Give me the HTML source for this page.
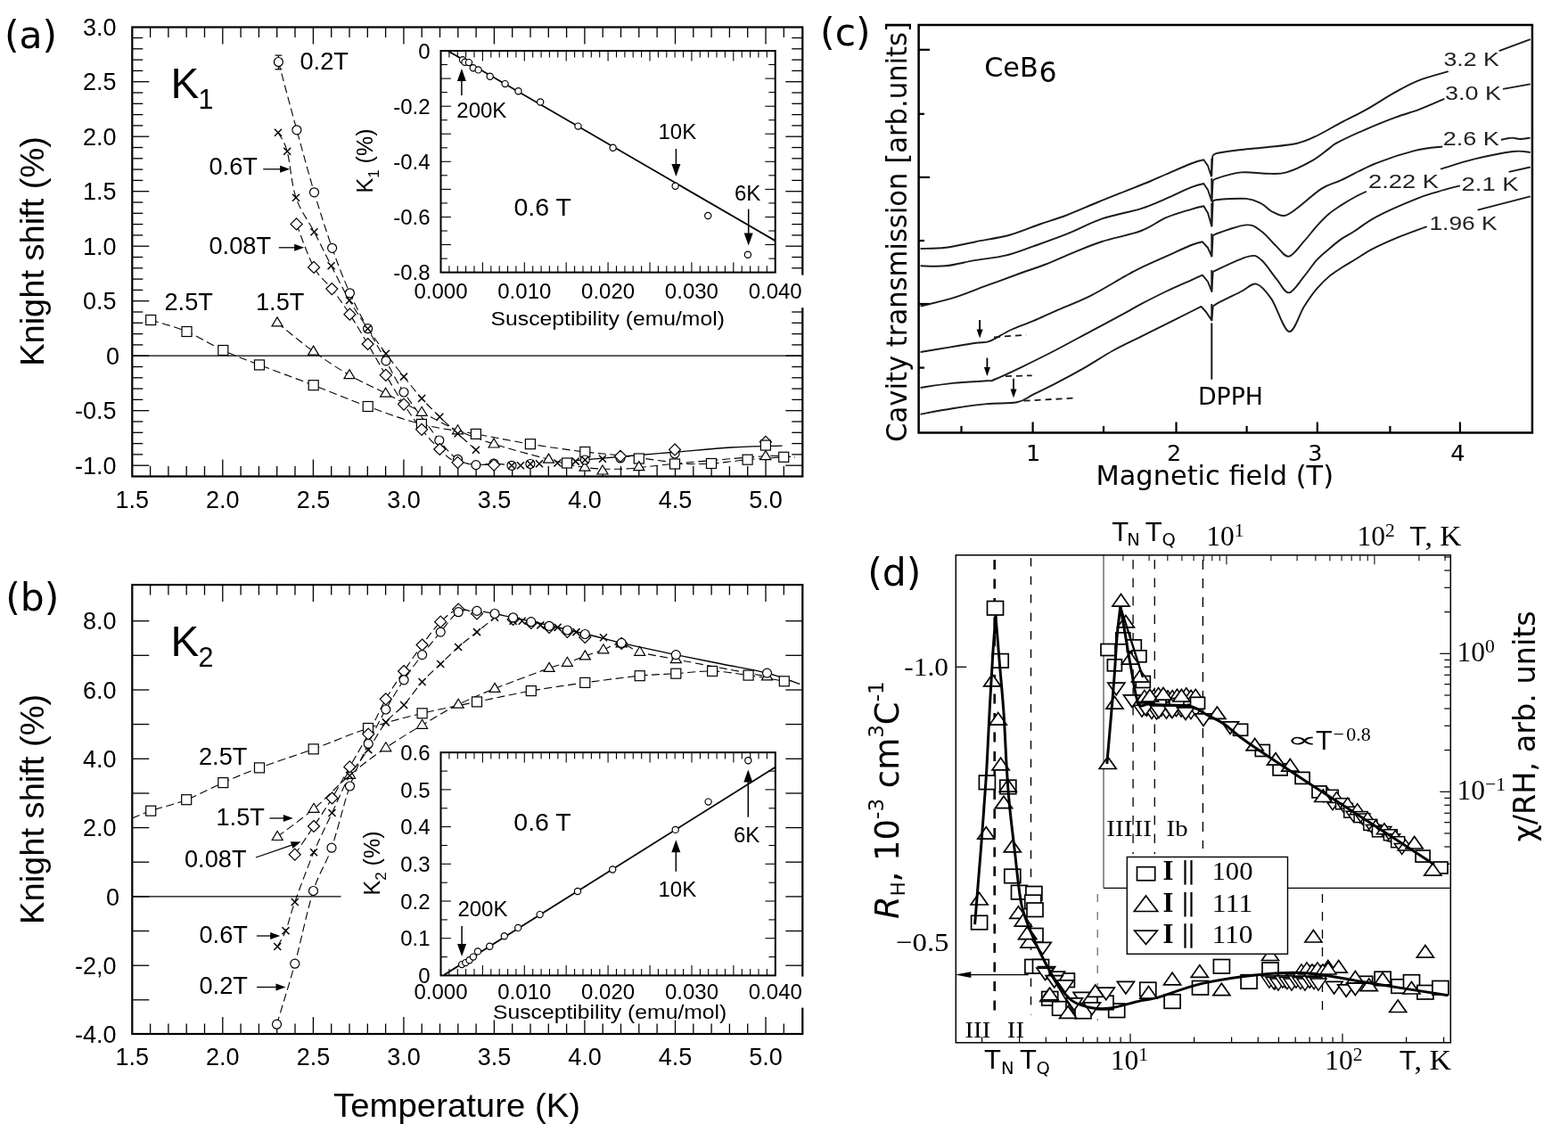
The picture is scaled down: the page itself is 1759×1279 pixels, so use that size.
<!DOCTYPE html>
<html><head><meta charset="utf-8"><style>
html,body{margin:0;padding:0;background:#fff;}
svg{display:block;}
</style></head><body>
<svg width="1759" height="1279" viewBox="0 0 1759 1279">
<rect x="0" y="0" width="1759" height="1279" fill="#fff"/>
<line x1="168.6" y1="534.5" x2="168.6" y2="523" stroke="#000" stroke-width="1.3"/>
<line x1="168.6" y1="30.5" x2="168.6" y2="42" stroke="#000" stroke-width="1.3"/>
<line x1="188.9" y1="534.5" x2="188.9" y2="523" stroke="#000" stroke-width="1.3"/>
<line x1="188.9" y1="30.5" x2="188.9" y2="42" stroke="#000" stroke-width="1.3"/>
<line x1="209.2" y1="534.5" x2="209.2" y2="523" stroke="#000" stroke-width="1.3"/>
<line x1="209.2" y1="30.5" x2="209.2" y2="42" stroke="#000" stroke-width="1.3"/>
<line x1="229.5" y1="534.5" x2="229.5" y2="523" stroke="#000" stroke-width="1.3"/>
<line x1="229.5" y1="30.5" x2="229.5" y2="42" stroke="#000" stroke-width="1.3"/>
<line x1="249.8" y1="534.5" x2="249.8" y2="515.5" stroke="#000" stroke-width="1.3"/>
<line x1="249.8" y1="30.5" x2="249.8" y2="49.5" stroke="#000" stroke-width="1.3"/>
<line x1="270.1" y1="534.5" x2="270.1" y2="523" stroke="#000" stroke-width="1.3"/>
<line x1="270.1" y1="30.5" x2="270.1" y2="42" stroke="#000" stroke-width="1.3"/>
<line x1="290.4" y1="534.5" x2="290.4" y2="523" stroke="#000" stroke-width="1.3"/>
<line x1="290.4" y1="30.5" x2="290.4" y2="42" stroke="#000" stroke-width="1.3"/>
<line x1="310.7" y1="534.5" x2="310.7" y2="523" stroke="#000" stroke-width="1.3"/>
<line x1="310.7" y1="30.5" x2="310.7" y2="42" stroke="#000" stroke-width="1.3"/>
<line x1="331" y1="534.5" x2="331" y2="523" stroke="#000" stroke-width="1.3"/>
<line x1="331" y1="30.5" x2="331" y2="42" stroke="#000" stroke-width="1.3"/>
<line x1="351.4" y1="534.5" x2="351.4" y2="515.5" stroke="#000" stroke-width="1.3"/>
<line x1="351.4" y1="30.5" x2="351.4" y2="49.5" stroke="#000" stroke-width="1.3"/>
<line x1="371.7" y1="534.5" x2="371.7" y2="523" stroke="#000" stroke-width="1.3"/>
<line x1="371.7" y1="30.5" x2="371.7" y2="42" stroke="#000" stroke-width="1.3"/>
<line x1="392" y1="534.5" x2="392" y2="523" stroke="#000" stroke-width="1.3"/>
<line x1="392" y1="30.5" x2="392" y2="42" stroke="#000" stroke-width="1.3"/>
<line x1="412.3" y1="534.5" x2="412.3" y2="523" stroke="#000" stroke-width="1.3"/>
<line x1="412.3" y1="30.5" x2="412.3" y2="42" stroke="#000" stroke-width="1.3"/>
<line x1="432.6" y1="534.5" x2="432.6" y2="523" stroke="#000" stroke-width="1.3"/>
<line x1="432.6" y1="30.5" x2="432.6" y2="42" stroke="#000" stroke-width="1.3"/>
<line x1="452.9" y1="534.5" x2="452.9" y2="515.5" stroke="#000" stroke-width="1.3"/>
<line x1="452.9" y1="30.5" x2="452.9" y2="49.5" stroke="#000" stroke-width="1.3"/>
<line x1="473.2" y1="534.5" x2="473.2" y2="523" stroke="#000" stroke-width="1.3"/>
<line x1="473.2" y1="30.5" x2="473.2" y2="42" stroke="#000" stroke-width="1.3"/>
<line x1="493.5" y1="534.5" x2="493.5" y2="523" stroke="#000" stroke-width="1.3"/>
<line x1="493.5" y1="30.5" x2="493.5" y2="42" stroke="#000" stroke-width="1.3"/>
<line x1="513.8" y1="534.5" x2="513.8" y2="523" stroke="#000" stroke-width="1.3"/>
<line x1="513.8" y1="30.5" x2="513.8" y2="42" stroke="#000" stroke-width="1.3"/>
<line x1="534.1" y1="534.5" x2="534.1" y2="523" stroke="#000" stroke-width="1.3"/>
<line x1="534.1" y1="30.5" x2="534.1" y2="42" stroke="#000" stroke-width="1.3"/>
<line x1="554.4" y1="534.5" x2="554.4" y2="515.5" stroke="#000" stroke-width="1.3"/>
<line x1="554.4" y1="30.5" x2="554.4" y2="49.5" stroke="#000" stroke-width="1.3"/>
<line x1="574.7" y1="534.5" x2="574.7" y2="523" stroke="#000" stroke-width="1.3"/>
<line x1="574.7" y1="30.5" x2="574.7" y2="42" stroke="#000" stroke-width="1.3"/>
<line x1="595" y1="534.5" x2="595" y2="523" stroke="#000" stroke-width="1.3"/>
<line x1="595" y1="30.5" x2="595" y2="42" stroke="#000" stroke-width="1.3"/>
<line x1="615.3" y1="534.5" x2="615.3" y2="523" stroke="#000" stroke-width="1.3"/>
<line x1="615.3" y1="30.5" x2="615.3" y2="42" stroke="#000" stroke-width="1.3"/>
<line x1="635.6" y1="534.5" x2="635.6" y2="523" stroke="#000" stroke-width="1.3"/>
<line x1="635.6" y1="30.5" x2="635.6" y2="42" stroke="#000" stroke-width="1.3"/>
<line x1="655.9" y1="534.5" x2="655.9" y2="515.5" stroke="#000" stroke-width="1.3"/>
<line x1="655.9" y1="30.5" x2="655.9" y2="49.5" stroke="#000" stroke-width="1.3"/>
<line x1="676.2" y1="534.5" x2="676.2" y2="523" stroke="#000" stroke-width="1.3"/>
<line x1="676.2" y1="30.5" x2="676.2" y2="42" stroke="#000" stroke-width="1.3"/>
<line x1="696.5" y1="534.5" x2="696.5" y2="523" stroke="#000" stroke-width="1.3"/>
<line x1="696.5" y1="30.5" x2="696.5" y2="42" stroke="#000" stroke-width="1.3"/>
<line x1="716.8" y1="534.5" x2="716.8" y2="523" stroke="#000" stroke-width="1.3"/>
<line x1="716.8" y1="30.5" x2="716.8" y2="42" stroke="#000" stroke-width="1.3"/>
<line x1="737.1" y1="534.5" x2="737.1" y2="523" stroke="#000" stroke-width="1.3"/>
<line x1="737.1" y1="30.5" x2="737.1" y2="42" stroke="#000" stroke-width="1.3"/>
<line x1="757.5" y1="534.5" x2="757.5" y2="515.5" stroke="#000" stroke-width="1.3"/>
<line x1="757.5" y1="30.5" x2="757.5" y2="49.5" stroke="#000" stroke-width="1.3"/>
<line x1="777.8" y1="534.5" x2="777.8" y2="523" stroke="#000" stroke-width="1.3"/>
<line x1="777.8" y1="30.5" x2="777.8" y2="42" stroke="#000" stroke-width="1.3"/>
<line x1="798.1" y1="534.5" x2="798.1" y2="523" stroke="#000" stroke-width="1.3"/>
<line x1="798.1" y1="30.5" x2="798.1" y2="42" stroke="#000" stroke-width="1.3"/>
<line x1="818.4" y1="534.5" x2="818.4" y2="523" stroke="#000" stroke-width="1.3"/>
<line x1="818.4" y1="30.5" x2="818.4" y2="42" stroke="#000" stroke-width="1.3"/>
<line x1="838.7" y1="534.5" x2="838.7" y2="523" stroke="#000" stroke-width="1.3"/>
<line x1="838.7" y1="30.5" x2="838.7" y2="42" stroke="#000" stroke-width="1.3"/>
<line x1="859" y1="534.5" x2="859" y2="515.5" stroke="#000" stroke-width="1.3"/>
<line x1="859" y1="30.5" x2="859" y2="49.5" stroke="#000" stroke-width="1.3"/>
<line x1="879.3" y1="534.5" x2="879.3" y2="523" stroke="#000" stroke-width="1.3"/>
<line x1="879.3" y1="30.5" x2="879.3" y2="42" stroke="#000" stroke-width="1.3"/>
<line x1="148.3" y1="522.2" x2="167.3" y2="522.2" stroke="#000" stroke-width="1.3"/>
<line x1="900.3" y1="522.2" x2="881.3" y2="522.2" stroke="#000" stroke-width="1.3"/>
<line x1="148.3" y1="509.9" x2="160.3" y2="509.9" stroke="#000" stroke-width="1.3"/>
<line x1="900.3" y1="509.9" x2="888.3" y2="509.9" stroke="#000" stroke-width="1.3"/>
<line x1="148.3" y1="497.6" x2="160.3" y2="497.6" stroke="#000" stroke-width="1.3"/>
<line x1="900.3" y1="497.6" x2="888.3" y2="497.6" stroke="#000" stroke-width="1.3"/>
<line x1="148.3" y1="485.3" x2="160.3" y2="485.3" stroke="#000" stroke-width="1.3"/>
<line x1="900.3" y1="485.3" x2="888.3" y2="485.3" stroke="#000" stroke-width="1.3"/>
<line x1="148.3" y1="473" x2="160.3" y2="473" stroke="#000" stroke-width="1.3"/>
<line x1="900.3" y1="473" x2="888.3" y2="473" stroke="#000" stroke-width="1.3"/>
<line x1="148.3" y1="460.7" x2="167.3" y2="460.7" stroke="#000" stroke-width="1.3"/>
<line x1="900.3" y1="460.7" x2="881.3" y2="460.7" stroke="#000" stroke-width="1.3"/>
<line x1="148.3" y1="448.4" x2="160.3" y2="448.4" stroke="#000" stroke-width="1.3"/>
<line x1="900.3" y1="448.4" x2="888.3" y2="448.4" stroke="#000" stroke-width="1.3"/>
<line x1="148.3" y1="436.1" x2="160.3" y2="436.1" stroke="#000" stroke-width="1.3"/>
<line x1="900.3" y1="436.1" x2="888.3" y2="436.1" stroke="#000" stroke-width="1.3"/>
<line x1="148.3" y1="423.8" x2="160.3" y2="423.8" stroke="#000" stroke-width="1.3"/>
<line x1="900.3" y1="423.8" x2="888.3" y2="423.8" stroke="#000" stroke-width="1.3"/>
<line x1="148.3" y1="411.5" x2="160.3" y2="411.5" stroke="#000" stroke-width="1.3"/>
<line x1="900.3" y1="411.5" x2="888.3" y2="411.5" stroke="#000" stroke-width="1.3"/>
<line x1="148.3" y1="399.2" x2="167.3" y2="399.2" stroke="#000" stroke-width="1.3"/>
<line x1="900.3" y1="399.2" x2="881.3" y2="399.2" stroke="#000" stroke-width="1.3"/>
<line x1="148.3" y1="386.9" x2="160.3" y2="386.9" stroke="#000" stroke-width="1.3"/>
<line x1="900.3" y1="386.9" x2="888.3" y2="386.9" stroke="#000" stroke-width="1.3"/>
<line x1="148.3" y1="374.6" x2="160.3" y2="374.6" stroke="#000" stroke-width="1.3"/>
<line x1="900.3" y1="374.6" x2="888.3" y2="374.6" stroke="#000" stroke-width="1.3"/>
<line x1="148.3" y1="362.3" x2="160.3" y2="362.3" stroke="#000" stroke-width="1.3"/>
<line x1="900.3" y1="362.3" x2="888.3" y2="362.3" stroke="#000" stroke-width="1.3"/>
<line x1="148.3" y1="350" x2="160.3" y2="350" stroke="#000" stroke-width="1.3"/>
<line x1="900.3" y1="350" x2="888.3" y2="350" stroke="#000" stroke-width="1.3"/>
<line x1="148.3" y1="337.7" x2="167.3" y2="337.7" stroke="#000" stroke-width="1.3"/>
<line x1="900.3" y1="337.7" x2="881.3" y2="337.7" stroke="#000" stroke-width="1.3"/>
<line x1="148.3" y1="325.4" x2="160.3" y2="325.4" stroke="#000" stroke-width="1.3"/>
<line x1="900.3" y1="325.4" x2="888.3" y2="325.4" stroke="#000" stroke-width="1.3"/>
<line x1="148.3" y1="313.1" x2="160.3" y2="313.1" stroke="#000" stroke-width="1.3"/>
<line x1="900.3" y1="313.1" x2="888.3" y2="313.1" stroke="#000" stroke-width="1.3"/>
<line x1="148.3" y1="300.8" x2="160.3" y2="300.8" stroke="#000" stroke-width="1.3"/>
<line x1="900.3" y1="300.8" x2="888.3" y2="300.8" stroke="#000" stroke-width="1.3"/>
<line x1="148.3" y1="288.5" x2="160.3" y2="288.5" stroke="#000" stroke-width="1.3"/>
<line x1="900.3" y1="288.5" x2="888.3" y2="288.5" stroke="#000" stroke-width="1.3"/>
<line x1="148.3" y1="276.2" x2="167.3" y2="276.2" stroke="#000" stroke-width="1.3"/>
<line x1="900.3" y1="276.2" x2="881.3" y2="276.2" stroke="#000" stroke-width="1.3"/>
<line x1="148.3" y1="263.9" x2="160.3" y2="263.9" stroke="#000" stroke-width="1.3"/>
<line x1="900.3" y1="263.9" x2="888.3" y2="263.9" stroke="#000" stroke-width="1.3"/>
<line x1="148.3" y1="251.6" x2="160.3" y2="251.6" stroke="#000" stroke-width="1.3"/>
<line x1="900.3" y1="251.6" x2="888.3" y2="251.6" stroke="#000" stroke-width="1.3"/>
<line x1="148.3" y1="239.3" x2="160.3" y2="239.3" stroke="#000" stroke-width="1.3"/>
<line x1="900.3" y1="239.3" x2="888.3" y2="239.3" stroke="#000" stroke-width="1.3"/>
<line x1="148.3" y1="227" x2="160.3" y2="227" stroke="#000" stroke-width="1.3"/>
<line x1="900.3" y1="227" x2="888.3" y2="227" stroke="#000" stroke-width="1.3"/>
<line x1="148.3" y1="214.7" x2="167.3" y2="214.7" stroke="#000" stroke-width="1.3"/>
<line x1="900.3" y1="214.7" x2="881.3" y2="214.7" stroke="#000" stroke-width="1.3"/>
<line x1="148.3" y1="202.4" x2="160.3" y2="202.4" stroke="#000" stroke-width="1.3"/>
<line x1="900.3" y1="202.4" x2="888.3" y2="202.4" stroke="#000" stroke-width="1.3"/>
<line x1="148.3" y1="190.1" x2="160.3" y2="190.1" stroke="#000" stroke-width="1.3"/>
<line x1="900.3" y1="190.1" x2="888.3" y2="190.1" stroke="#000" stroke-width="1.3"/>
<line x1="148.3" y1="177.8" x2="160.3" y2="177.8" stroke="#000" stroke-width="1.3"/>
<line x1="900.3" y1="177.8" x2="888.3" y2="177.8" stroke="#000" stroke-width="1.3"/>
<line x1="148.3" y1="165.5" x2="160.3" y2="165.5" stroke="#000" stroke-width="1.3"/>
<line x1="900.3" y1="165.5" x2="888.3" y2="165.5" stroke="#000" stroke-width="1.3"/>
<line x1="148.3" y1="153.2" x2="167.3" y2="153.2" stroke="#000" stroke-width="1.3"/>
<line x1="900.3" y1="153.2" x2="881.3" y2="153.2" stroke="#000" stroke-width="1.3"/>
<line x1="148.3" y1="140.9" x2="160.3" y2="140.9" stroke="#000" stroke-width="1.3"/>
<line x1="900.3" y1="140.9" x2="888.3" y2="140.9" stroke="#000" stroke-width="1.3"/>
<line x1="148.3" y1="128.6" x2="160.3" y2="128.6" stroke="#000" stroke-width="1.3"/>
<line x1="900.3" y1="128.6" x2="888.3" y2="128.6" stroke="#000" stroke-width="1.3"/>
<line x1="148.3" y1="116.3" x2="160.3" y2="116.3" stroke="#000" stroke-width="1.3"/>
<line x1="900.3" y1="116.3" x2="888.3" y2="116.3" stroke="#000" stroke-width="1.3"/>
<line x1="148.3" y1="104" x2="160.3" y2="104" stroke="#000" stroke-width="1.3"/>
<line x1="900.3" y1="104" x2="888.3" y2="104" stroke="#000" stroke-width="1.3"/>
<line x1="148.3" y1="91.7" x2="167.3" y2="91.7" stroke="#000" stroke-width="1.3"/>
<line x1="900.3" y1="91.7" x2="881.3" y2="91.7" stroke="#000" stroke-width="1.3"/>
<line x1="148.3" y1="79.4" x2="160.3" y2="79.4" stroke="#000" stroke-width="1.3"/>
<line x1="900.3" y1="79.4" x2="888.3" y2="79.4" stroke="#000" stroke-width="1.3"/>
<line x1="148.3" y1="67.1" x2="160.3" y2="67.1" stroke="#000" stroke-width="1.3"/>
<line x1="900.3" y1="67.1" x2="888.3" y2="67.1" stroke="#000" stroke-width="1.3"/>
<line x1="148.3" y1="54.8" x2="160.3" y2="54.8" stroke="#000" stroke-width="1.3"/>
<line x1="900.3" y1="54.8" x2="888.3" y2="54.8" stroke="#000" stroke-width="1.3"/>
<line x1="148.3" y1="42.5" x2="160.3" y2="42.5" stroke="#000" stroke-width="1.3"/>
<line x1="900.3" y1="42.5" x2="888.3" y2="42.5" stroke="#000" stroke-width="1.3"/>
<rect x="148.3" y="30.5" width="752" height="504" fill="none" stroke="#000" stroke-width="2.2"/>
<line x1="148.3" y1="399.2" x2="900.3" y2="399.2" stroke="#000" stroke-width="1.3"/>
<text x="130.5" y="39.8" font-family="'Liberation Sans', Arial, sans-serif" font-size="27" text-anchor="end">3.0</text>
<text x="130.5" y="101.3" font-family="'Liberation Sans', Arial, sans-serif" font-size="27" text-anchor="end">2.5</text>
<text x="130.5" y="162.8" font-family="'Liberation Sans', Arial, sans-serif" font-size="27" text-anchor="end">2.0</text>
<text x="130.5" y="224.3" font-family="'Liberation Sans', Arial, sans-serif" font-size="27" text-anchor="end">1.5</text>
<text x="130.5" y="285.8" font-family="'Liberation Sans', Arial, sans-serif" font-size="27" text-anchor="end">1.0</text>
<text x="130.5" y="347.3" font-family="'Liberation Sans', Arial, sans-serif" font-size="27" text-anchor="end">0.5</text>
<text x="130.5" y="470.3" font-family="'Liberation Sans', Arial, sans-serif" font-size="27" text-anchor="end">-0.5</text>
<text x="130.5" y="531.8" font-family="'Liberation Sans', Arial, sans-serif" font-size="27" text-anchor="end">-1.0</text>
<text x="134" y="408.8" font-family="'Liberation Sans', Arial, sans-serif" font-size="27" text-anchor="end">0</text>
<text x="148.3" y="569.7" font-family="'Liberation Sans', Arial, sans-serif" font-size="27" text-anchor="middle">1.5</text>
<text x="249.8" y="569.7" font-family="'Liberation Sans', Arial, sans-serif" font-size="27" text-anchor="middle">2.0</text>
<text x="351.4" y="569.7" font-family="'Liberation Sans', Arial, sans-serif" font-size="27" text-anchor="middle">2.5</text>
<text x="452.9" y="569.7" font-family="'Liberation Sans', Arial, sans-serif" font-size="27" text-anchor="middle">3.0</text>
<text x="554.4" y="569.7" font-family="'Liberation Sans', Arial, sans-serif" font-size="27" text-anchor="middle">3.5</text>
<text x="655.9" y="569.7" font-family="'Liberation Sans', Arial, sans-serif" font-size="27" text-anchor="middle">4.0</text>
<text x="757.5" y="569.7" font-family="'Liberation Sans', Arial, sans-serif" font-size="27" text-anchor="middle">4.5</text>
<text x="859" y="569.7" font-family="'Liberation Sans', Arial, sans-serif" font-size="27" text-anchor="middle">5.0</text>
<text x="5" y="53.5" font-family="'DejaVu Sans', sans-serif" font-size="42.5">(a)</text>
<text x="49.4" y="410.8" font-family="'Liberation Sans', Arial, sans-serif" font-size="36" textLength="257.7" lengthAdjust="spacingAndGlyphs" transform="rotate(-90 49.4 410.8)">Knight shift (%)</text>
<text x="191.5" y="110.1" font-family="'Liberation Sans', Arial, sans-serif" font-size="47.5">K</text>
<text x="222.5" y="121.8" font-family="'Liberation Sans', Arial, sans-serif" font-size="30.5">1</text>
<text x="336.5" y="77.8" font-family="'Liberation Sans', Arial, sans-serif" font-size="27.2">0.2T</text>
<text x="234.5" y="196.2" font-family="'Liberation Sans', Arial, sans-serif" font-size="27.2">0.6T</text>
<text x="234.5" y="284.6" font-family="'Liberation Sans', Arial, sans-serif" font-size="27.2">0.08T</text>
<text x="184.5" y="347.5" font-family="'Liberation Sans', Arial, sans-serif" font-size="27.2">2.5T</text>
<text x="287" y="347.5" font-family="'Liberation Sans', Arial, sans-serif" font-size="27.2">1.5T</text>
<line x1="295.2" y1="189.8" x2="315.1" y2="189.8" stroke="#000" stroke-width="1.3"/>
<path d="M325.1,189.8 L314.1,193.8 L314.1,185.8 Z" fill="#000"/>
<line x1="312.8" y1="277.8" x2="331.2" y2="277.8" stroke="#000" stroke-width="1.3"/>
<path d="M341.2,277.8 L330.2,281.8 L330.2,273.8 Z" fill="#000"/>
<path d="M312.4,69.5 C315.8,82.2 326.2,121.4 332.9,145.8 C339.6,170.2 345.9,193.7 352.5,215.8 C359.1,237.9 366,259.5 372.6,278.3 C379.2,297.1 385.7,313.7 392.4,328.8 C399.1,343.9 405.8,356 412.6,368.7 C419.4,381.4 426.3,392.9 433,404.8 C439.7,416.7 443,425.1 453,440 C463,454.9 482.7,481.4 492.8,494 C502.9,506.6 506.6,510.7 513.5,515.3 C520.4,519.9 527.1,520.8 533.9,521.6 C540.6,522.4 547.3,519.9 554,520 C560.7,520.1 570.7,521.9 574,522.3" fill="none" stroke="#000" stroke-width="1.1" stroke-dasharray="9,4.5" stroke-linejoin="round"/>
<path d="M312,148.7 C313.7,152.2 318.9,157.6 322.2,169.8 C325.5,182 326.9,206.6 332,221.7 C337.1,236.8 345.9,247.4 352.5,260.2 C359.1,273 365,285.5 371.6,298.3 C378.2,311.1 385.2,325.3 392,337 C398.8,348.7 405.8,358.7 412.6,368.7 C419.4,378.7 426.3,387.8 433,396.8 C439.7,405.8 446.3,414.2 453,422.6 C459.7,431 466.4,439.5 473.1,447 C479.8,454.5 486.6,461.1 493.3,467.7 C500,474.3 506.7,480.3 513.5,486.5 C520.3,492.7 530.5,501.8 533.9,504.8" fill="none" stroke="#000" stroke-width="1.1" stroke-dasharray="9,4.5" stroke-linejoin="round"/>
<path d="M332.6,251.4 C335.9,259.5 345.5,287.8 352.1,299.9 C358.7,312 365.6,315.3 372.3,324.1 C379,332.9 385.7,342.4 392.4,352.7 C399.1,363 405.9,374.6 412.6,386 C419.3,397.4 426.1,409.5 432.8,420.8 C439.5,432.1 446.3,443.4 453,453.6 C459.7,463.8 466.4,473.4 473.1,481.8 C479.8,490.2 486.6,497.8 493.3,504 C500,510.2 503.4,515.9 513.5,518.8 C523.6,521.7 547.3,521.1 554.1,521.6" fill="none" stroke="#000" stroke-width="1.1" stroke-dasharray="9,4.5" stroke-linejoin="round"/>
<path d="M311,362.1 C317.8,367.5 338.1,384.5 351.6,394.3 C365.1,404.1 378.5,413 392,420.8 C405.5,428.6 419.1,434.4 432.6,441.4 C446.1,448.3 459.6,455.6 473.1,462.5 C486.6,469.4 500,477.1 513.5,483 C527,488.9 537.1,492.8 554.1,498.2 C571.1,503.6 598.5,510.9 615.5,515.3 C632.5,519.7 641.9,522.6 656,524.4 C670.1,526.2 682.7,526.7 700,526 C717.3,525.3 733.5,522.4 760,520 C786.5,517.6 836.9,513 858.9,511.8 C880.9,510.6 886.5,512.8 892,513" fill="none" stroke="#000" stroke-width="1.1" stroke-dasharray="9,4.5" stroke-linejoin="round"/>
<path d="M169.2,359 C175.9,361.2 196,366.3 209.5,372 C223,377.7 236.7,386.8 250.3,393 C263.9,399.2 274.1,402.9 291,409.4 C307.9,415.9 331.4,424.4 351.7,432.2 C372,440 392.5,448.7 412.7,456 C432.9,463.3 452.7,470.8 472.9,475.9 C493.1,481 513.6,483.2 533.9,486.9 C554.2,490.6 574.5,494.8 594.9,498.2 C615.3,501.6 639.4,504.9 656.3,507 C673.1,509.1 679.2,509 696,511 C712.8,513 746.8,517.7 757,519" fill="none" stroke="#000" stroke-width="1.1" stroke-dasharray="9,4.5" stroke-linejoin="round"/>
<path d="M757,520.5 C763.8,520.4 784.4,520.8 798,520 C811.6,519.2 825.1,516.9 838.6,515.7 C852.1,514.5 870.6,513.4 879.2,512.8 C887.8,512.2 888.2,512.1 890,512" fill="none" stroke="#000" stroke-width="1.1" stroke-dasharray="9,4.5" stroke-linejoin="round"/>
<path d="M645.7,516.6 C654.8,515.8 681,513.6 700,512 C719,510.4 740,508.7 760,507 C780,505.3 800.4,503.1 820,502 C839.6,500.9 868,500.5 877.6,500.2" fill="none" stroke="#000" stroke-width="1.3" stroke-linejoin="round"/>
<line x1="312.4" y1="62.1" x2="312.4" y2="77.8" stroke="#000" stroke-width="1.2"/>
<line x1="308.5" y1="62.1" x2="316.3" y2="62.1" stroke="#000" stroke-width="1.2"/>
<line x1="308.5" y1="77.8" x2="316.3" y2="77.8" stroke="#000" stroke-width="1.2"/>
<rect x="163.7" y="353.5" width="11" height="11" fill="#fff" stroke="#000" stroke-width="1.2"/>
<rect x="204" y="366.5" width="11" height="11" fill="#fff" stroke="#000" stroke-width="1.2"/>
<rect x="244.8" y="387.5" width="11" height="11" fill="#fff" stroke="#000" stroke-width="1.2"/>
<rect x="285.5" y="403.9" width="11" height="11" fill="#fff" stroke="#000" stroke-width="1.2"/>
<rect x="346.2" y="426.7" width="11" height="11" fill="#fff" stroke="#000" stroke-width="1.2"/>
<rect x="407.2" y="450.5" width="11" height="11" fill="#fff" stroke="#000" stroke-width="1.2"/>
<rect x="467.4" y="470.4" width="11" height="11" fill="#fff" stroke="#000" stroke-width="1.2"/>
<rect x="528.4" y="481.4" width="11" height="11" fill="#fff" stroke="#000" stroke-width="1.2"/>
<rect x="589.4" y="492.7" width="11" height="11" fill="#fff" stroke="#000" stroke-width="1.2"/>
<rect x="650.8" y="501.5" width="11" height="11" fill="#fff" stroke="#000" stroke-width="1.2"/>
<rect x="711.3" y="509" width="11" height="11" fill="#fff" stroke="#000" stroke-width="1.2"/>
<rect x="751.5" y="515" width="11" height="11" fill="#fff" stroke="#000" stroke-width="1.2"/>
<rect x="792.5" y="514.5" width="11" height="11" fill="#fff" stroke="#000" stroke-width="1.2"/>
<rect x="833.1" y="510.2" width="11" height="11" fill="#fff" stroke="#000" stroke-width="1.2"/>
<rect x="873.7" y="507.3" width="11" height="11" fill="#fff" stroke="#000" stroke-width="1.2"/>
<rect x="630.5" y="514" width="11" height="11" fill="#fff" stroke="#000" stroke-width="1.2"/>
<path d="M311,355.9 L317,365.9 L305,365.9 Z" fill="#fff" stroke="#000" stroke-width="1.2" stroke-linejoin="miter"/>
<path d="M351.6,388.1 L357.6,398.1 L345.6,398.1 Z" fill="#fff" stroke="#000" stroke-width="1.2" stroke-linejoin="miter"/>
<path d="M392,414.6 L398,424.6 L386,424.6 Z" fill="#fff" stroke="#000" stroke-width="1.2" stroke-linejoin="miter"/>
<path d="M432.6,435.2 L438.6,445.2 L426.6,445.2 Z" fill="#fff" stroke="#000" stroke-width="1.2" stroke-linejoin="miter"/>
<path d="M473.1,456.3 L479.1,466.3 L467.1,466.3 Z" fill="#fff" stroke="#000" stroke-width="1.2" stroke-linejoin="miter"/>
<path d="M513.5,476.8 L519.5,486.8 L507.5,486.8 Z" fill="#fff" stroke="#000" stroke-width="1.2" stroke-linejoin="miter"/>
<path d="M554.1,492 L560.1,502 L548.1,502 Z" fill="#fff" stroke="#000" stroke-width="1.2" stroke-linejoin="miter"/>
<path d="M615.5,509.1 L621.5,519.1 L609.5,519.1 Z" fill="#fff" stroke="#000" stroke-width="1.2" stroke-linejoin="miter"/>
<path d="M656,518.2 L662,528.2 L650,528.2 Z" fill="#fff" stroke="#000" stroke-width="1.2" stroke-linejoin="miter"/>
<path d="M676,522 L682,532 L670,532 Z" fill="#fff" stroke="#000" stroke-width="1.2" stroke-linejoin="miter"/>
<path d="M716.8,517.6 L722.8,527.6 L710.8,527.6 Z" fill="#fff" stroke="#000" stroke-width="1.2" stroke-linejoin="miter"/>
<path d="M858.9,505.6 L864.9,515.6 L852.9,515.6 Z" fill="#fff" stroke="#000" stroke-width="1.2" stroke-linejoin="miter"/>
<circle cx="312.4" cy="69.5" r="5" fill="#fff" stroke="#000" stroke-width="1.2"/>
<circle cx="332.9" cy="145.8" r="5" fill="#fff" stroke="#000" stroke-width="1.2"/>
<circle cx="352.5" cy="215.8" r="5" fill="#fff" stroke="#000" stroke-width="1.2"/>
<circle cx="372.6" cy="278.3" r="5" fill="#fff" stroke="#000" stroke-width="1.2"/>
<circle cx="392.4" cy="328.8" r="5" fill="#fff" stroke="#000" stroke-width="1.2"/>
<circle cx="412.6" cy="368.7" r="5" fill="#fff" stroke="#000" stroke-width="1.2"/>
<circle cx="433" cy="404.8" r="5" fill="#fff" stroke="#000" stroke-width="1.2"/>
<circle cx="453" cy="440" r="5" fill="#fff" stroke="#000" stroke-width="1.2"/>
<circle cx="492.8" cy="494" r="5" fill="#fff" stroke="#000" stroke-width="1.2"/>
<circle cx="513.5" cy="515.3" r="5" fill="#fff" stroke="#000" stroke-width="1.2"/>
<circle cx="533.9" cy="521.6" r="5" fill="#fff" stroke="#000" stroke-width="1.2"/>
<circle cx="554" cy="520" r="5" fill="#fff" stroke="#000" stroke-width="1.2"/>
<circle cx="574" cy="522.3" r="5" fill="#fff" stroke="#000" stroke-width="1.2"/>
<circle cx="594.9" cy="520.5" r="5" fill="#fff" stroke="#000" stroke-width="1.2"/>
<circle cx="656.3" cy="516" r="5" fill="#fff" stroke="#000" stroke-width="1.2"/>
<circle cx="757" cy="509" r="5" fill="#fff" stroke="#000" stroke-width="1.2"/>
<circle cx="696" cy="514" r="5" fill="#fff" stroke="#000" stroke-width="1.2"/>
<path d="M332.6,244.9 L339.1,251.4 L332.6,257.9 L326.1,251.4 Z" fill="#fff" stroke="#000" stroke-width="1.2"/>
<path d="M352.1,293.4 L358.6,299.9 L352.1,306.4 L345.6,299.9 Z" fill="#fff" stroke="#000" stroke-width="1.2"/>
<path d="M372.3,317.6 L378.8,324.1 L372.3,330.6 L365.8,324.1 Z" fill="#fff" stroke="#000" stroke-width="1.2"/>
<path d="M392.4,346.2 L398.9,352.7 L392.4,359.2 L385.9,352.7 Z" fill="#fff" stroke="#000" stroke-width="1.2"/>
<path d="M412.6,379.5 L419.1,386 L412.6,392.5 L406.1,386 Z" fill="#fff" stroke="#000" stroke-width="1.2"/>
<path d="M432.8,414.3 L439.3,420.8 L432.8,427.3 L426.3,420.8 Z" fill="#fff" stroke="#000" stroke-width="1.2"/>
<path d="M453,447.1 L459.5,453.6 L453,460.1 L446.5,453.6 Z" fill="#fff" stroke="#000" stroke-width="1.2"/>
<path d="M473.1,475.3 L479.6,481.8 L473.1,488.3 L466.6,481.8 Z" fill="#fff" stroke="#000" stroke-width="1.2"/>
<path d="M493.3,497.5 L499.8,504 L493.3,510.5 L486.8,504 Z" fill="#fff" stroke="#000" stroke-width="1.2"/>
<path d="M513.5,512.3 L520,518.8 L513.5,525.3 L507,518.8 Z" fill="#fff" stroke="#000" stroke-width="1.2"/>
<path d="M554.1,515.1 L560.6,521.6 L554.1,528.1 L547.6,521.6 Z" fill="#fff" stroke="#000" stroke-width="1.2"/>
<path d="M696,505.3 L702.5,511.8 L696,518.3 L689.5,511.8 Z" fill="#fff" stroke="#000" stroke-width="1.2"/>
<path d="M757,498 L763.5,504.5 L757,511 L750.5,504.5 Z" fill="#fff" stroke="#000" stroke-width="1.2"/>
<path d="M858.9,489.3 L865.4,495.8 L858.9,502.3 L852.4,495.8 Z" fill="#fff" stroke="#000" stroke-width="1.2"/>
<rect x="853.4" y="494.1" width="11" height="11" fill="#fff" stroke="#000" stroke-width="1.2"/>
<path d="M308,144.7 L316,152.7 M308,152.7 L316,144.7" stroke="#000" stroke-width="1.5" fill="none"/>
<path d="M318.2,165.8 L326.2,173.8 M318.2,173.8 L326.2,165.8" stroke="#000" stroke-width="1.5" fill="none"/>
<path d="M328,217.7 L336,225.7 M328,225.7 L336,217.7" stroke="#000" stroke-width="1.5" fill="none"/>
<path d="M348.5,256.2 L356.5,264.2 M348.5,264.2 L356.5,256.2" stroke="#000" stroke-width="1.5" fill="none"/>
<path d="M367.6,294.3 L375.6,302.3 M367.6,302.3 L375.6,294.3" stroke="#000" stroke-width="1.5" fill="none"/>
<path d="M388,333 L396,341 M388,341 L396,333" stroke="#000" stroke-width="1.5" fill="none"/>
<path d="M408.6,364.7 L416.6,372.7 M408.6,372.7 L416.6,364.7" stroke="#000" stroke-width="1.5" fill="none"/>
<path d="M429,392.8 L437,400.8 M429,400.8 L437,392.8" stroke="#000" stroke-width="1.5" fill="none"/>
<path d="M449,418.6 L457,426.6 M449,426.6 L457,418.6" stroke="#000" stroke-width="1.5" fill="none"/>
<path d="M469.1,443 L477.1,451 M469.1,451 L477.1,443" stroke="#000" stroke-width="1.5" fill="none"/>
<path d="M489.3,463.7 L497.3,471.7 M489.3,471.7 L497.3,463.7" stroke="#000" stroke-width="1.5" fill="none"/>
<path d="M509.5,482.5 L517.5,490.5 M509.5,490.5 L517.5,482.5" stroke="#000" stroke-width="1.5" fill="none"/>
<path d="M529.9,500.8 L537.9,508.8 M529.9,508.8 L537.9,500.8" stroke="#000" stroke-width="1.5" fill="none"/>
<path d="M570,518.3 L578,526.3 M570,526.3 L578,518.3" stroke="#000" stroke-width="1.5" fill="none"/>
<path d="M580,518.3 L588,526.3 M580,526.3 L588,518.3" stroke="#000" stroke-width="1.5" fill="none"/>
<path d="M591,516.5 L599,524.5 M591,524.5 L599,516.5" stroke="#000" stroke-width="1.5" fill="none"/>
<path d="M601,516.3 L609,524.3 M601,524.3 L609,516.3" stroke="#000" stroke-width="1.5" fill="none"/>
<path d="M621.4,515.5 L629.4,523.5 M621.4,523.5 L629.4,515.5" stroke="#000" stroke-width="1.5" fill="none"/>
<path d="M641.7,513.6 L649.7,521.6 M641.7,521.6 L649.7,513.6" stroke="#000" stroke-width="1.5" fill="none"/>
<path d="M652.3,512 L660.3,520 M652.3,520 L660.3,512" stroke="#000" stroke-width="1.5" fill="none"/>
<path d="M672,510.7 L680,518.7 M672,518.7 L680,510.7" stroke="#000" stroke-width="1.5" fill="none"/>
<rect x="434.5" y="308.6" width="475.2" height="36.6" fill="#fff"/>
<line x1="503.9" y1="57" x2="503.9" y2="64.4" stroke="#000" stroke-width="1.1"/>
<line x1="503.9" y1="305.6" x2="503.9" y2="298.2" stroke="#000" stroke-width="1.1"/>
<line x1="513.3" y1="57" x2="513.3" y2="64.4" stroke="#000" stroke-width="1.1"/>
<line x1="513.3" y1="305.6" x2="513.3" y2="298.2" stroke="#000" stroke-width="1.1"/>
<line x1="522.6" y1="57" x2="522.6" y2="64.4" stroke="#000" stroke-width="1.1"/>
<line x1="522.6" y1="305.6" x2="522.6" y2="298.2" stroke="#000" stroke-width="1.1"/>
<line x1="532" y1="57" x2="532" y2="64.4" stroke="#000" stroke-width="1.1"/>
<line x1="532" y1="305.6" x2="532" y2="298.2" stroke="#000" stroke-width="1.1"/>
<line x1="541.4" y1="57" x2="541.4" y2="68.4" stroke="#000" stroke-width="1.1"/>
<line x1="541.4" y1="305.6" x2="541.4" y2="294.2" stroke="#000" stroke-width="1.1"/>
<line x1="550.8" y1="57" x2="550.8" y2="64.4" stroke="#000" stroke-width="1.1"/>
<line x1="550.8" y1="305.6" x2="550.8" y2="298.2" stroke="#000" stroke-width="1.1"/>
<line x1="560.2" y1="57" x2="560.2" y2="64.4" stroke="#000" stroke-width="1.1"/>
<line x1="560.2" y1="305.6" x2="560.2" y2="298.2" stroke="#000" stroke-width="1.1"/>
<line x1="569.5" y1="57" x2="569.5" y2="64.4" stroke="#000" stroke-width="1.1"/>
<line x1="569.5" y1="305.6" x2="569.5" y2="298.2" stroke="#000" stroke-width="1.1"/>
<line x1="578.9" y1="57" x2="578.9" y2="64.4" stroke="#000" stroke-width="1.1"/>
<line x1="578.9" y1="305.6" x2="578.9" y2="298.2" stroke="#000" stroke-width="1.1"/>
<line x1="588.3" y1="57" x2="588.3" y2="68.4" stroke="#000" stroke-width="1.1"/>
<line x1="588.3" y1="305.6" x2="588.3" y2="294.2" stroke="#000" stroke-width="1.1"/>
<line x1="597.7" y1="57" x2="597.7" y2="64.4" stroke="#000" stroke-width="1.1"/>
<line x1="597.7" y1="305.6" x2="597.7" y2="298.2" stroke="#000" stroke-width="1.1"/>
<line x1="607.1" y1="57" x2="607.1" y2="64.4" stroke="#000" stroke-width="1.1"/>
<line x1="607.1" y1="305.6" x2="607.1" y2="298.2" stroke="#000" stroke-width="1.1"/>
<line x1="616.4" y1="57" x2="616.4" y2="64.4" stroke="#000" stroke-width="1.1"/>
<line x1="616.4" y1="305.6" x2="616.4" y2="298.2" stroke="#000" stroke-width="1.1"/>
<line x1="625.8" y1="57" x2="625.8" y2="64.4" stroke="#000" stroke-width="1.1"/>
<line x1="625.8" y1="305.6" x2="625.8" y2="298.2" stroke="#000" stroke-width="1.1"/>
<line x1="635.2" y1="57" x2="635.2" y2="68.4" stroke="#000" stroke-width="1.1"/>
<line x1="635.2" y1="305.6" x2="635.2" y2="294.2" stroke="#000" stroke-width="1.1"/>
<line x1="644.6" y1="57" x2="644.6" y2="64.4" stroke="#000" stroke-width="1.1"/>
<line x1="644.6" y1="305.6" x2="644.6" y2="298.2" stroke="#000" stroke-width="1.1"/>
<line x1="654" y1="57" x2="654" y2="64.4" stroke="#000" stroke-width="1.1"/>
<line x1="654" y1="305.6" x2="654" y2="298.2" stroke="#000" stroke-width="1.1"/>
<line x1="663.3" y1="57" x2="663.3" y2="64.4" stroke="#000" stroke-width="1.1"/>
<line x1="663.3" y1="305.6" x2="663.3" y2="298.2" stroke="#000" stroke-width="1.1"/>
<line x1="672.7" y1="57" x2="672.7" y2="64.4" stroke="#000" stroke-width="1.1"/>
<line x1="672.7" y1="305.6" x2="672.7" y2="298.2" stroke="#000" stroke-width="1.1"/>
<line x1="682.1" y1="57" x2="682.1" y2="68.4" stroke="#000" stroke-width="1.1"/>
<line x1="682.1" y1="305.6" x2="682.1" y2="294.2" stroke="#000" stroke-width="1.1"/>
<line x1="691.5" y1="57" x2="691.5" y2="64.4" stroke="#000" stroke-width="1.1"/>
<line x1="691.5" y1="305.6" x2="691.5" y2="298.2" stroke="#000" stroke-width="1.1"/>
<line x1="700.9" y1="57" x2="700.9" y2="64.4" stroke="#000" stroke-width="1.1"/>
<line x1="700.9" y1="305.6" x2="700.9" y2="298.2" stroke="#000" stroke-width="1.1"/>
<line x1="710.2" y1="57" x2="710.2" y2="64.4" stroke="#000" stroke-width="1.1"/>
<line x1="710.2" y1="305.6" x2="710.2" y2="298.2" stroke="#000" stroke-width="1.1"/>
<line x1="719.6" y1="57" x2="719.6" y2="64.4" stroke="#000" stroke-width="1.1"/>
<line x1="719.6" y1="305.6" x2="719.6" y2="298.2" stroke="#000" stroke-width="1.1"/>
<line x1="729" y1="57" x2="729" y2="68.4" stroke="#000" stroke-width="1.1"/>
<line x1="729" y1="305.6" x2="729" y2="294.2" stroke="#000" stroke-width="1.1"/>
<line x1="738.4" y1="57" x2="738.4" y2="64.4" stroke="#000" stroke-width="1.1"/>
<line x1="738.4" y1="305.6" x2="738.4" y2="298.2" stroke="#000" stroke-width="1.1"/>
<line x1="747.8" y1="57" x2="747.8" y2="64.4" stroke="#000" stroke-width="1.1"/>
<line x1="747.8" y1="305.6" x2="747.8" y2="298.2" stroke="#000" stroke-width="1.1"/>
<line x1="757.1" y1="57" x2="757.1" y2="64.4" stroke="#000" stroke-width="1.1"/>
<line x1="757.1" y1="305.6" x2="757.1" y2="298.2" stroke="#000" stroke-width="1.1"/>
<line x1="766.5" y1="57" x2="766.5" y2="64.4" stroke="#000" stroke-width="1.1"/>
<line x1="766.5" y1="305.6" x2="766.5" y2="298.2" stroke="#000" stroke-width="1.1"/>
<line x1="775.9" y1="57" x2="775.9" y2="68.4" stroke="#000" stroke-width="1.1"/>
<line x1="775.9" y1="305.6" x2="775.9" y2="294.2" stroke="#000" stroke-width="1.1"/>
<line x1="785.3" y1="57" x2="785.3" y2="64.4" stroke="#000" stroke-width="1.1"/>
<line x1="785.3" y1="305.6" x2="785.3" y2="298.2" stroke="#000" stroke-width="1.1"/>
<line x1="794.7" y1="57" x2="794.7" y2="64.4" stroke="#000" stroke-width="1.1"/>
<line x1="794.7" y1="305.6" x2="794.7" y2="298.2" stroke="#000" stroke-width="1.1"/>
<line x1="804" y1="57" x2="804" y2="64.4" stroke="#000" stroke-width="1.1"/>
<line x1="804" y1="305.6" x2="804" y2="298.2" stroke="#000" stroke-width="1.1"/>
<line x1="813.4" y1="57" x2="813.4" y2="64.4" stroke="#000" stroke-width="1.1"/>
<line x1="813.4" y1="305.6" x2="813.4" y2="298.2" stroke="#000" stroke-width="1.1"/>
<line x1="822.8" y1="57" x2="822.8" y2="68.4" stroke="#000" stroke-width="1.1"/>
<line x1="822.8" y1="305.6" x2="822.8" y2="294.2" stroke="#000" stroke-width="1.1"/>
<line x1="832.2" y1="57" x2="832.2" y2="64.4" stroke="#000" stroke-width="1.1"/>
<line x1="832.2" y1="305.6" x2="832.2" y2="298.2" stroke="#000" stroke-width="1.1"/>
<line x1="841.6" y1="57" x2="841.6" y2="64.4" stroke="#000" stroke-width="1.1"/>
<line x1="841.6" y1="305.6" x2="841.6" y2="298.2" stroke="#000" stroke-width="1.1"/>
<line x1="850.9" y1="57" x2="850.9" y2="64.4" stroke="#000" stroke-width="1.1"/>
<line x1="850.9" y1="305.6" x2="850.9" y2="298.2" stroke="#000" stroke-width="1.1"/>
<line x1="860.3" y1="57" x2="860.3" y2="64.4" stroke="#000" stroke-width="1.1"/>
<line x1="860.3" y1="305.6" x2="860.3" y2="298.2" stroke="#000" stroke-width="1.1"/>
<line x1="494.5" y1="72.5" x2="501.9" y2="72.5" stroke="#000" stroke-width="1.1"/>
<line x1="869.7" y1="72.5" x2="862.3" y2="72.5" stroke="#000" stroke-width="1.1"/>
<line x1="494.5" y1="88.1" x2="505.9" y2="88.1" stroke="#000" stroke-width="1.1"/>
<line x1="869.7" y1="88.1" x2="858.3" y2="88.1" stroke="#000" stroke-width="1.1"/>
<line x1="494.5" y1="103.6" x2="501.9" y2="103.6" stroke="#000" stroke-width="1.1"/>
<line x1="869.7" y1="103.6" x2="862.3" y2="103.6" stroke="#000" stroke-width="1.1"/>
<line x1="494.5" y1="119.2" x2="505.9" y2="119.2" stroke="#000" stroke-width="1.1"/>
<line x1="869.7" y1="119.2" x2="858.3" y2="119.2" stroke="#000" stroke-width="1.1"/>
<line x1="494.5" y1="134.7" x2="501.9" y2="134.7" stroke="#000" stroke-width="1.1"/>
<line x1="869.7" y1="134.7" x2="862.3" y2="134.7" stroke="#000" stroke-width="1.1"/>
<line x1="494.5" y1="150.2" x2="505.9" y2="150.2" stroke="#000" stroke-width="1.1"/>
<line x1="869.7" y1="150.2" x2="858.3" y2="150.2" stroke="#000" stroke-width="1.1"/>
<line x1="494.5" y1="165.8" x2="501.9" y2="165.8" stroke="#000" stroke-width="1.1"/>
<line x1="869.7" y1="165.8" x2="862.3" y2="165.8" stroke="#000" stroke-width="1.1"/>
<line x1="494.5" y1="181.3" x2="505.9" y2="181.3" stroke="#000" stroke-width="1.1"/>
<line x1="869.7" y1="181.3" x2="858.3" y2="181.3" stroke="#000" stroke-width="1.1"/>
<line x1="494.5" y1="196.8" x2="501.9" y2="196.8" stroke="#000" stroke-width="1.1"/>
<line x1="869.7" y1="196.8" x2="862.3" y2="196.8" stroke="#000" stroke-width="1.1"/>
<line x1="494.5" y1="212.4" x2="505.9" y2="212.4" stroke="#000" stroke-width="1.1"/>
<line x1="869.7" y1="212.4" x2="858.3" y2="212.4" stroke="#000" stroke-width="1.1"/>
<line x1="494.5" y1="227.9" x2="501.9" y2="227.9" stroke="#000" stroke-width="1.1"/>
<line x1="869.7" y1="227.9" x2="862.3" y2="227.9" stroke="#000" stroke-width="1.1"/>
<line x1="494.5" y1="243.5" x2="505.9" y2="243.5" stroke="#000" stroke-width="1.1"/>
<line x1="869.7" y1="243.5" x2="858.3" y2="243.5" stroke="#000" stroke-width="1.1"/>
<line x1="494.5" y1="259" x2="501.9" y2="259" stroke="#000" stroke-width="1.1"/>
<line x1="869.7" y1="259" x2="862.3" y2="259" stroke="#000" stroke-width="1.1"/>
<line x1="494.5" y1="274.5" x2="505.9" y2="274.5" stroke="#000" stroke-width="1.1"/>
<line x1="869.7" y1="274.5" x2="858.3" y2="274.5" stroke="#000" stroke-width="1.1"/>
<line x1="494.5" y1="290.1" x2="501.9" y2="290.1" stroke="#000" stroke-width="1.1"/>
<line x1="869.7" y1="290.1" x2="862.3" y2="290.1" stroke="#000" stroke-width="1.1"/>
<rect x="494.5" y="57" width="375.2" height="248.6" fill="none" stroke="#000" stroke-width="2"/>
<text x="482.5" y="65.7" font-family="'Liberation Sans', Arial, sans-serif" font-size="24" text-anchor="end">0</text>
<text x="482.5" y="127.9" font-family="'Liberation Sans', Arial, sans-serif" font-size="24" text-anchor="end">-0.2</text>
<text x="482.5" y="190" font-family="'Liberation Sans', Arial, sans-serif" font-size="24" text-anchor="end">-0.4</text>
<text x="482.5" y="252.1" font-family="'Liberation Sans', Arial, sans-serif" font-size="24" text-anchor="end">-0.6</text>
<text x="482.5" y="314.3" font-family="'Liberation Sans', Arial, sans-serif" font-size="24" text-anchor="end">-0.8</text>
<text x="494.5" y="334.5" font-family="'Liberation Sans', Arial, sans-serif" font-size="24" text-anchor="middle">0.000</text>
<text x="588.3" y="334.5" font-family="'Liberation Sans', Arial, sans-serif" font-size="24" text-anchor="middle">0.010</text>
<text x="682.1" y="334.5" font-family="'Liberation Sans', Arial, sans-serif" font-size="24" text-anchor="middle">0.020</text>
<text x="775.9" y="334.5" font-family="'Liberation Sans', Arial, sans-serif" font-size="24" text-anchor="middle">0.030</text>
<text x="869.7" y="334.5" font-family="'Liberation Sans', Arial, sans-serif" font-size="24" text-anchor="middle">0.040</text>
<text x="550.6" y="365" font-family="'Liberation Sans', Arial, sans-serif" font-size="22.8" textLength="262.3" lengthAdjust="spacingAndGlyphs">Susceptibility (emu/mol)</text>
<text x="418" y="216.5" font-family="'Liberation Sans', Arial, sans-serif" font-size="25" transform="rotate(-90 418 216.5)">K<tspan font-size="17" dy="7">1</tspan><tspan dy="-7"> (%)</tspan></text>
<line x1="503.3" y1="57.6" x2="869.7" y2="270.1" stroke="#000" stroke-width="1.8"/>
<circle cx="519" cy="67.3" r="3.6" fill="#fff" stroke="#000" stroke-width="1.2"/>
<circle cx="521.5" cy="69.8" r="3.6" fill="#fff" stroke="#000" stroke-width="1.2"/>
<circle cx="526" cy="70.1" r="3.6" fill="#fff" stroke="#000" stroke-width="1.2"/>
<circle cx="530.8" cy="76.2" r="3.6" fill="#fff" stroke="#000" stroke-width="1.2"/>
<circle cx="536.6" cy="78.4" r="3.6" fill="#fff" stroke="#000" stroke-width="1.2"/>
<circle cx="549.7" cy="85.8" r="3.6" fill="#fff" stroke="#000" stroke-width="1.2"/>
<circle cx="566.6" cy="94.1" r="3.6" fill="#fff" stroke="#000" stroke-width="1.2"/>
<circle cx="581.5" cy="102.3" r="3.6" fill="#fff" stroke="#000" stroke-width="1.2"/>
<circle cx="606.2" cy="114.5" r="3.6" fill="#fff" stroke="#000" stroke-width="1.2"/>
<circle cx="648.5" cy="141.6" r="3.6" fill="#fff" stroke="#000" stroke-width="1.2"/>
<circle cx="687.6" cy="165.8" r="3.6" fill="#fff" stroke="#000" stroke-width="1.2"/>
<circle cx="757.6" cy="208.7" r="3.6" fill="#fff" stroke="#000" stroke-width="1.2"/>
<circle cx="794.2" cy="242" r="3.6" fill="#fff" stroke="#000" stroke-width="1.2"/>
<circle cx="838.9" cy="285.7" r="3.6" fill="#fff" stroke="#000" stroke-width="1.2"/>
<line x1="517.9" y1="106.9" x2="517.9" y2="90" stroke="#000" stroke-width="1.5"/>
<path d="M517.9,77 L522.9,91 L512.9,91 Z" fill="#000"/>
<line x1="758.4" y1="167" x2="758.4" y2="185" stroke="#000" stroke-width="1.5"/>
<path d="M758.4,198 L753.4,184 L763.4,184 Z" fill="#000"/>
<line x1="839.7" y1="234.6" x2="839.7" y2="262.5" stroke="#000" stroke-width="1.5"/>
<path d="M839.7,275.5 L834.7,261.5 L844.7,261.5 Z" fill="#000"/>
<text x="512.3" y="131.9" font-family="'Liberation Sans', Arial, sans-serif" font-size="24">200K</text>
<text x="738.5" y="156" font-family="'Liberation Sans', Arial, sans-serif" font-size="24">10K</text>
<text x="824" y="225" font-family="'Liberation Sans', Arial, sans-serif" font-size="24">6K</text>
<text x="576.4" y="242" font-family="'Liberation Sans', Arial, sans-serif" font-size="28.5">0.6 T</text>
<line x1="168.6" y1="1160" x2="168.6" y2="1148.5" stroke="#000" stroke-width="1.3"/>
<line x1="168.6" y1="656.1" x2="168.6" y2="667.6" stroke="#000" stroke-width="1.3"/>
<line x1="188.9" y1="1160" x2="188.9" y2="1148.5" stroke="#000" stroke-width="1.3"/>
<line x1="188.9" y1="656.1" x2="188.9" y2="667.6" stroke="#000" stroke-width="1.3"/>
<line x1="209.2" y1="1160" x2="209.2" y2="1148.5" stroke="#000" stroke-width="1.3"/>
<line x1="209.2" y1="656.1" x2="209.2" y2="667.6" stroke="#000" stroke-width="1.3"/>
<line x1="229.5" y1="1160" x2="229.5" y2="1148.5" stroke="#000" stroke-width="1.3"/>
<line x1="229.5" y1="656.1" x2="229.5" y2="667.6" stroke="#000" stroke-width="1.3"/>
<line x1="249.8" y1="1160" x2="249.8" y2="1141" stroke="#000" stroke-width="1.3"/>
<line x1="249.8" y1="656.1" x2="249.8" y2="675.1" stroke="#000" stroke-width="1.3"/>
<line x1="270.1" y1="1160" x2="270.1" y2="1148.5" stroke="#000" stroke-width="1.3"/>
<line x1="270.1" y1="656.1" x2="270.1" y2="667.6" stroke="#000" stroke-width="1.3"/>
<line x1="290.4" y1="1160" x2="290.4" y2="1148.5" stroke="#000" stroke-width="1.3"/>
<line x1="290.4" y1="656.1" x2="290.4" y2="667.6" stroke="#000" stroke-width="1.3"/>
<line x1="310.7" y1="1160" x2="310.7" y2="1148.5" stroke="#000" stroke-width="1.3"/>
<line x1="310.7" y1="656.1" x2="310.7" y2="667.6" stroke="#000" stroke-width="1.3"/>
<line x1="331" y1="1160" x2="331" y2="1148.5" stroke="#000" stroke-width="1.3"/>
<line x1="331" y1="656.1" x2="331" y2="667.6" stroke="#000" stroke-width="1.3"/>
<line x1="351.4" y1="1160" x2="351.4" y2="1141" stroke="#000" stroke-width="1.3"/>
<line x1="351.4" y1="656.1" x2="351.4" y2="675.1" stroke="#000" stroke-width="1.3"/>
<line x1="371.7" y1="1160" x2="371.7" y2="1148.5" stroke="#000" stroke-width="1.3"/>
<line x1="371.7" y1="656.1" x2="371.7" y2="667.6" stroke="#000" stroke-width="1.3"/>
<line x1="392" y1="1160" x2="392" y2="1148.5" stroke="#000" stroke-width="1.3"/>
<line x1="392" y1="656.1" x2="392" y2="667.6" stroke="#000" stroke-width="1.3"/>
<line x1="412.3" y1="1160" x2="412.3" y2="1148.5" stroke="#000" stroke-width="1.3"/>
<line x1="412.3" y1="656.1" x2="412.3" y2="667.6" stroke="#000" stroke-width="1.3"/>
<line x1="432.6" y1="1160" x2="432.6" y2="1148.5" stroke="#000" stroke-width="1.3"/>
<line x1="432.6" y1="656.1" x2="432.6" y2="667.6" stroke="#000" stroke-width="1.3"/>
<line x1="452.9" y1="1160" x2="452.9" y2="1141" stroke="#000" stroke-width="1.3"/>
<line x1="452.9" y1="656.1" x2="452.9" y2="675.1" stroke="#000" stroke-width="1.3"/>
<line x1="473.2" y1="1160" x2="473.2" y2="1148.5" stroke="#000" stroke-width="1.3"/>
<line x1="473.2" y1="656.1" x2="473.2" y2="667.6" stroke="#000" stroke-width="1.3"/>
<line x1="493.5" y1="1160" x2="493.5" y2="1148.5" stroke="#000" stroke-width="1.3"/>
<line x1="493.5" y1="656.1" x2="493.5" y2="667.6" stroke="#000" stroke-width="1.3"/>
<line x1="513.8" y1="1160" x2="513.8" y2="1148.5" stroke="#000" stroke-width="1.3"/>
<line x1="513.8" y1="656.1" x2="513.8" y2="667.6" stroke="#000" stroke-width="1.3"/>
<line x1="534.1" y1="1160" x2="534.1" y2="1148.5" stroke="#000" stroke-width="1.3"/>
<line x1="534.1" y1="656.1" x2="534.1" y2="667.6" stroke="#000" stroke-width="1.3"/>
<line x1="554.4" y1="1160" x2="554.4" y2="1141" stroke="#000" stroke-width="1.3"/>
<line x1="554.4" y1="656.1" x2="554.4" y2="675.1" stroke="#000" stroke-width="1.3"/>
<line x1="574.7" y1="1160" x2="574.7" y2="1148.5" stroke="#000" stroke-width="1.3"/>
<line x1="574.7" y1="656.1" x2="574.7" y2="667.6" stroke="#000" stroke-width="1.3"/>
<line x1="595" y1="1160" x2="595" y2="1148.5" stroke="#000" stroke-width="1.3"/>
<line x1="595" y1="656.1" x2="595" y2="667.6" stroke="#000" stroke-width="1.3"/>
<line x1="615.3" y1="1160" x2="615.3" y2="1148.5" stroke="#000" stroke-width="1.3"/>
<line x1="615.3" y1="656.1" x2="615.3" y2="667.6" stroke="#000" stroke-width="1.3"/>
<line x1="635.6" y1="1160" x2="635.6" y2="1148.5" stroke="#000" stroke-width="1.3"/>
<line x1="635.6" y1="656.1" x2="635.6" y2="667.6" stroke="#000" stroke-width="1.3"/>
<line x1="655.9" y1="1160" x2="655.9" y2="1141" stroke="#000" stroke-width="1.3"/>
<line x1="655.9" y1="656.1" x2="655.9" y2="675.1" stroke="#000" stroke-width="1.3"/>
<line x1="676.2" y1="1160" x2="676.2" y2="1148.5" stroke="#000" stroke-width="1.3"/>
<line x1="676.2" y1="656.1" x2="676.2" y2="667.6" stroke="#000" stroke-width="1.3"/>
<line x1="696.5" y1="1160" x2="696.5" y2="1148.5" stroke="#000" stroke-width="1.3"/>
<line x1="696.5" y1="656.1" x2="696.5" y2="667.6" stroke="#000" stroke-width="1.3"/>
<line x1="716.8" y1="1160" x2="716.8" y2="1148.5" stroke="#000" stroke-width="1.3"/>
<line x1="716.8" y1="656.1" x2="716.8" y2="667.6" stroke="#000" stroke-width="1.3"/>
<line x1="737.1" y1="1160" x2="737.1" y2="1148.5" stroke="#000" stroke-width="1.3"/>
<line x1="737.1" y1="656.1" x2="737.1" y2="667.6" stroke="#000" stroke-width="1.3"/>
<line x1="757.5" y1="1160" x2="757.5" y2="1141" stroke="#000" stroke-width="1.3"/>
<line x1="757.5" y1="656.1" x2="757.5" y2="675.1" stroke="#000" stroke-width="1.3"/>
<line x1="777.8" y1="1160" x2="777.8" y2="1148.5" stroke="#000" stroke-width="1.3"/>
<line x1="777.8" y1="656.1" x2="777.8" y2="667.6" stroke="#000" stroke-width="1.3"/>
<line x1="798.1" y1="1160" x2="798.1" y2="1148.5" stroke="#000" stroke-width="1.3"/>
<line x1="798.1" y1="656.1" x2="798.1" y2="667.6" stroke="#000" stroke-width="1.3"/>
<line x1="818.4" y1="1160" x2="818.4" y2="1148.5" stroke="#000" stroke-width="1.3"/>
<line x1="818.4" y1="656.1" x2="818.4" y2="667.6" stroke="#000" stroke-width="1.3"/>
<line x1="838.7" y1="1160" x2="838.7" y2="1148.5" stroke="#000" stroke-width="1.3"/>
<line x1="838.7" y1="656.1" x2="838.7" y2="667.6" stroke="#000" stroke-width="1.3"/>
<line x1="859" y1="1160" x2="859" y2="1141" stroke="#000" stroke-width="1.3"/>
<line x1="859" y1="656.1" x2="859" y2="675.1" stroke="#000" stroke-width="1.3"/>
<line x1="879.3" y1="1160" x2="879.3" y2="1148.5" stroke="#000" stroke-width="1.3"/>
<line x1="879.3" y1="656.1" x2="879.3" y2="667.6" stroke="#000" stroke-width="1.3"/>
<line x1="148.3" y1="1121.8" x2="167.3" y2="1121.8" stroke="#000" stroke-width="1.3"/>
<line x1="900.3" y1="1121.8" x2="881.3" y2="1121.8" stroke="#000" stroke-width="1.3"/>
<line x1="148.3" y1="1083.2" x2="167.3" y2="1083.2" stroke="#000" stroke-width="1.3"/>
<line x1="900.3" y1="1083.2" x2="881.3" y2="1083.2" stroke="#000" stroke-width="1.3"/>
<line x1="148.3" y1="1044.5" x2="167.3" y2="1044.5" stroke="#000" stroke-width="1.3"/>
<line x1="900.3" y1="1044.5" x2="881.3" y2="1044.5" stroke="#000" stroke-width="1.3"/>
<line x1="148.3" y1="1005.9" x2="167.3" y2="1005.9" stroke="#000" stroke-width="1.3"/>
<line x1="900.3" y1="1005.9" x2="881.3" y2="1005.9" stroke="#000" stroke-width="1.3"/>
<line x1="148.3" y1="967.2" x2="167.3" y2="967.2" stroke="#000" stroke-width="1.3"/>
<line x1="900.3" y1="967.2" x2="881.3" y2="967.2" stroke="#000" stroke-width="1.3"/>
<line x1="148.3" y1="928.6" x2="167.3" y2="928.6" stroke="#000" stroke-width="1.3"/>
<line x1="900.3" y1="928.6" x2="881.3" y2="928.6" stroke="#000" stroke-width="1.3"/>
<line x1="148.3" y1="890" x2="167.3" y2="890" stroke="#000" stroke-width="1.3"/>
<line x1="900.3" y1="890" x2="881.3" y2="890" stroke="#000" stroke-width="1.3"/>
<line x1="148.3" y1="851.3" x2="167.3" y2="851.3" stroke="#000" stroke-width="1.3"/>
<line x1="900.3" y1="851.3" x2="881.3" y2="851.3" stroke="#000" stroke-width="1.3"/>
<line x1="148.3" y1="812.6" x2="167.3" y2="812.6" stroke="#000" stroke-width="1.3"/>
<line x1="900.3" y1="812.6" x2="881.3" y2="812.6" stroke="#000" stroke-width="1.3"/>
<line x1="148.3" y1="774" x2="167.3" y2="774" stroke="#000" stroke-width="1.3"/>
<line x1="900.3" y1="774" x2="881.3" y2="774" stroke="#000" stroke-width="1.3"/>
<line x1="148.3" y1="735.3" x2="167.3" y2="735.3" stroke="#000" stroke-width="1.3"/>
<line x1="900.3" y1="735.3" x2="881.3" y2="735.3" stroke="#000" stroke-width="1.3"/>
<line x1="148.3" y1="696.7" x2="167.3" y2="696.7" stroke="#000" stroke-width="1.3"/>
<line x1="900.3" y1="696.7" x2="881.3" y2="696.7" stroke="#000" stroke-width="1.3"/>
<rect x="148.3" y="656.1" width="752" height="503.9" fill="none" stroke="#000" stroke-width="2.2"/>
<line x1="148.3" y1="1005.9" x2="382.5" y2="1005.9" stroke="#000" stroke-width="1.3"/>
<text x="130.5" y="706.3" font-family="'Liberation Sans', Arial, sans-serif" font-size="27" text-anchor="end">8.0</text>
<text x="130.5" y="783.6" font-family="'Liberation Sans', Arial, sans-serif" font-size="27" text-anchor="end">6.0</text>
<text x="130.5" y="860.9" font-family="'Liberation Sans', Arial, sans-serif" font-size="27" text-anchor="end">4.0</text>
<text x="130.5" y="938.2" font-family="'Liberation Sans', Arial, sans-serif" font-size="27" text-anchor="end">2.0</text>
<text x="130.5" y="1092.8" font-family="'Liberation Sans', Arial, sans-serif" font-size="27" text-anchor="end">-2,0</text>
<text x="130.5" y="1170.1" font-family="'Liberation Sans', Arial, sans-serif" font-size="27" text-anchor="end">-4.0</text>
<text x="134" y="1015.5" font-family="'Liberation Sans', Arial, sans-serif" font-size="27" text-anchor="end">0</text>
<text x="148.3" y="1195.2" font-family="'Liberation Sans', Arial, sans-serif" font-size="27" text-anchor="middle">1.5</text>
<text x="249.8" y="1195.2" font-family="'Liberation Sans', Arial, sans-serif" font-size="27" text-anchor="middle">2.0</text>
<text x="351.4" y="1195.2" font-family="'Liberation Sans', Arial, sans-serif" font-size="27" text-anchor="middle">2.5</text>
<text x="452.9" y="1195.2" font-family="'Liberation Sans', Arial, sans-serif" font-size="27" text-anchor="middle">3.0</text>
<text x="554.4" y="1195.2" font-family="'Liberation Sans', Arial, sans-serif" font-size="27" text-anchor="middle">3.5</text>
<text x="655.9" y="1195.2" font-family="'Liberation Sans', Arial, sans-serif" font-size="27" text-anchor="middle">4.0</text>
<text x="757.5" y="1195.2" font-family="'Liberation Sans', Arial, sans-serif" font-size="27" text-anchor="middle">4.5</text>
<text x="859" y="1195.2" font-family="'Liberation Sans', Arial, sans-serif" font-size="27" text-anchor="middle">5.0</text>
<text x="374.1" y="1252.6" font-family="'Liberation Sans', Arial, sans-serif" font-size="36" textLength="276.9" lengthAdjust="spacingAndGlyphs">Temperature (K)</text>
<text x="6.2" y="684.5" font-family="'DejaVu Sans', sans-serif" font-size="42.5">(b)</text>
<text x="49.4" y="1036.9" font-family="'Liberation Sans', Arial, sans-serif" font-size="36" textLength="258.1" lengthAdjust="spacingAndGlyphs" transform="rotate(-90 49.4 1036.9)">Knight shift (%)</text>
<text x="191.5" y="736.4" font-family="'Liberation Sans', Arial, sans-serif" font-size="47.5">K</text>
<text x="222.5" y="747.8" font-family="'Liberation Sans', Arial, sans-serif" font-size="30.5">2</text>
<text x="223" y="858" font-family="'Liberation Sans', Arial, sans-serif" font-size="27.2">2.5T</text>
<text x="242.5" y="925.5" font-family="'Liberation Sans', Arial, sans-serif" font-size="27.2">1.5T</text>
<text x="207" y="972.5" font-family="'Liberation Sans', Arial, sans-serif" font-size="27.2">0.08T</text>
<text x="223.5" y="1057.5" font-family="'Liberation Sans', Arial, sans-serif" font-size="27.2">0.6T</text>
<text x="223.5" y="1115" font-family="'Liberation Sans', Arial, sans-serif" font-size="27.2">0.2T</text>
<line x1="302.5" y1="918" x2="318.8" y2="918" stroke="#000" stroke-width="1.3"/>
<path d="M328.8,918 L317.8,922 L317.8,914 Z" fill="#000"/>
<line x1="287" y1="962" x2="328.1" y2="947.8" stroke="#000" stroke-width="1.3"/>
<path d="M337.5,944.5 L328.4,951.9 L325.8,944.3 Z" fill="#000"/>
<line x1="288" y1="1050" x2="304.2" y2="1050" stroke="#000" stroke-width="1.3"/>
<path d="M314.2,1050 L303.2,1054 L303.2,1046 Z" fill="#000"/>
<line x1="288" y1="1107.5" x2="310.5" y2="1107.5" stroke="#000" stroke-width="1.3"/>
<path d="M320.5,1107.5 L309.5,1111.5 L309.5,1103.5 Z" fill="#000"/>
<path d="M148.3,918 C151.8,916.6 159,913.2 169.2,909.7 C179.3,906.2 195.7,902.5 209.2,897.2 C222.7,891.9 236.7,884.1 250.3,878.1 C263.9,872.1 274.1,867.7 291,861.4 C307.9,855.1 331.4,847.8 351.7,840.4 C372,833 392.7,823.7 413,817 C433.3,810.3 453.3,805.2 473.6,800.3 C493.9,795.4 514.6,791.6 535,787.4 C555.4,783.2 575.6,778.7 595.8,775.1 C616,771.5 636,768.7 656.3,765.9 C676.6,763.1 700.7,759.9 717.7,758.2 C734.7,756.5 744.7,756.6 758.3,755.7 C771.9,754.8 785.5,752.7 799.1,753 C812.7,753.3 826.2,755.7 839.6,757.6 C853,759.5 873.1,763.2 879.8,764.3" fill="none" stroke="#000" stroke-width="1.1" stroke-dasharray="9,4.5" stroke-linejoin="round"/>
<path d="M311.2,938.8 C318,933.5 338.4,919 352,907.5 C365.6,896 379.1,880.9 392.6,869.5 C406.1,858.1 419.3,848.3 432.8,839 C446.3,829.7 460,821.6 473.6,813.5 C487.2,805.4 500.6,797.2 514.2,790.4 C527.8,783.6 538,779.4 555,772.6 C572,765.8 602.5,754.5 616.1,749.6 C629.7,744.8 629.7,745.8 636.4,743.5 C643.1,741.2 649.5,738.5 656.3,736.1 C663,733.7 673.5,730.2 676.9,729" fill="none" stroke="#000" stroke-width="1.1" stroke-dasharray="9,4.5" stroke-linejoin="round"/>
<path d="M676.9,729 C680.3,727.8 690.4,721.6 697.2,722 C704,722.4 707.5,728.5 717.7,731.5 C727.9,734.5 734.5,735.2 758.3,739.8 C782.1,744.4 843.5,755.9 860.5,759.1" fill="none" stroke="#000" stroke-width="1.1" stroke-dasharray="9,4.5" stroke-linejoin="round"/>
<path d="M330.8,958.8 C334.3,953.5 345,937.5 352,927 C359,916.5 365.8,906.6 372.5,895.5 C379.2,884.4 385.5,872.4 392.3,860.4 C399.1,848.4 406.4,836.3 413.2,823.6 C419.9,810.9 426.1,796.1 432.8,784.3 C439.5,772.5 446.3,763.1 453.1,753 C459.9,742.9 466.8,732.7 473.6,723.5 C480.5,714.3 487.4,704.4 494.2,697.7 C501,691.1 507.4,685.1 514.2,683.6 C521,682.1 531.5,687.7 535,688.5" fill="none" stroke="#000" stroke-width="1.1" stroke-dasharray="9,4.5" stroke-linejoin="round"/>
<path d="M311.2,1062 C312.8,1059 317.2,1052.6 320.5,1044.2 C323.8,1035.9 325.5,1026.7 330.8,1012 C336,997.3 345,972.9 352,956.2 C359,939.6 365.8,926.3 372.5,912 C379.2,897.7 385.5,882.1 392.3,870.3 C399.1,858.5 406.4,851.1 413.2,841.1 C419.9,831.1 426.1,818.8 432.8,810.4 C439.5,802 446.3,798.6 453.1,791 C459.9,783.4 466.8,772.7 473.6,765 C480.5,757.3 487.4,751.5 494.2,745 C501,738.5 507.4,732 514.2,726 C521,720 528.2,714.6 535,709.1 C541.8,703.6 551.7,695.5 555,692.8" fill="none" stroke="#000" stroke-width="1.1" stroke-dasharray="9,4.5" stroke-linejoin="round"/>
<path d="M310.5,1149.2 C313.9,1137.9 323.9,1106.2 330.8,1081.2 C337.6,1056.3 344.6,1021.2 351.5,999.5 C358.4,977.8 365.2,970.8 372,951.2 C378.8,931.7 385.6,901.5 392.5,882 C399.4,862.5 406.5,848.7 413.2,834.4 C419.9,820.1 426.1,807.9 432.8,796 C439.5,784.1 446.3,773 453.1,762.8 C459.9,752.6 466.8,743.5 473.6,734.6 C480.5,725.7 487.4,717.1 494.2,709.1 C501,701.1 507.4,690.7 514.2,686.7 C521,682.8 528.2,685.1 535,685.4 C541.8,685.7 551.7,688 555,688.5" fill="none" stroke="#000" stroke-width="1.1" stroke-dasharray="9,4.5" stroke-linejoin="round"/>
<path d="M555,688.5 C562.5,690.1 582.5,694.1 600,698 C617.5,701.9 643.8,708.1 660,712 C676.2,715.9 680.8,717.6 697.2,721.4 C713.6,725.2 739.5,730.7 758.3,734.6 C777.1,738.5 793,741.6 810,745 C827,748.4 846,751.4 860.5,755.1 C875,758.8 891.2,765.4 897.3,767.4" fill="none" stroke="#000" stroke-width="1.3" stroke-linejoin="round"/>
<rect x="163.7" y="904.2" width="11" height="11" fill="#fff" stroke="#000" stroke-width="1.2"/>
<rect x="203.7" y="891.7" width="11" height="11" fill="#fff" stroke="#000" stroke-width="1.2"/>
<rect x="244.8" y="872.6" width="11" height="11" fill="#fff" stroke="#000" stroke-width="1.2"/>
<rect x="285.5" y="855.9" width="11" height="11" fill="#fff" stroke="#000" stroke-width="1.2"/>
<rect x="346.2" y="834.9" width="11" height="11" fill="#fff" stroke="#000" stroke-width="1.2"/>
<rect x="407.5" y="811.5" width="11" height="11" fill="#fff" stroke="#000" stroke-width="1.2"/>
<rect x="468.1" y="794.8" width="11" height="11" fill="#fff" stroke="#000" stroke-width="1.2"/>
<rect x="529.5" y="781.9" width="11" height="11" fill="#fff" stroke="#000" stroke-width="1.2"/>
<rect x="590.3" y="769.6" width="11" height="11" fill="#fff" stroke="#000" stroke-width="1.2"/>
<rect x="650.8" y="760.4" width="11" height="11" fill="#fff" stroke="#000" stroke-width="1.2"/>
<rect x="712.2" y="752.7" width="11" height="11" fill="#fff" stroke="#000" stroke-width="1.2"/>
<rect x="752.8" y="750.2" width="11" height="11" fill="#fff" stroke="#000" stroke-width="1.2"/>
<rect x="793.6" y="747.5" width="11" height="11" fill="#fff" stroke="#000" stroke-width="1.2"/>
<rect x="834.1" y="752.1" width="11" height="11" fill="#fff" stroke="#000" stroke-width="1.2"/>
<rect x="874.3" y="758.8" width="11" height="11" fill="#fff" stroke="#000" stroke-width="1.2"/>
<path d="M311.2,932.5 L317.2,942.5 L305.2,942.5 Z" fill="#fff" stroke="#000" stroke-width="1.2" stroke-linejoin="miter"/>
<path d="M352,901.3 L358,911.3 L346,911.3 Z" fill="#fff" stroke="#000" stroke-width="1.2" stroke-linejoin="miter"/>
<path d="M392.6,863.3 L398.6,873.3 L386.6,873.3 Z" fill="#fff" stroke="#000" stroke-width="1.2" stroke-linejoin="miter"/>
<path d="M432.8,832.8 L438.8,842.8 L426.8,842.8 Z" fill="#fff" stroke="#000" stroke-width="1.2" stroke-linejoin="miter"/>
<path d="M473.6,807.3 L479.6,817.3 L467.6,817.3 Z" fill="#fff" stroke="#000" stroke-width="1.2" stroke-linejoin="miter"/>
<path d="M514.2,784.2 L520.2,794.2 L508.2,794.2 Z" fill="#fff" stroke="#000" stroke-width="1.2" stroke-linejoin="miter"/>
<path d="M555,766.4 L561,776.4 L549,776.4 Z" fill="#fff" stroke="#000" stroke-width="1.2" stroke-linejoin="miter"/>
<path d="M616.1,743.4 L622.1,753.4 L610.1,753.4 Z" fill="#fff" stroke="#000" stroke-width="1.2" stroke-linejoin="miter"/>
<path d="M636.4,737.3 L642.4,747.3 L630.4,747.3 Z" fill="#fff" stroke="#000" stroke-width="1.2" stroke-linejoin="miter"/>
<path d="M656.3,729.9 L662.3,739.9 L650.3,739.9 Z" fill="#fff" stroke="#000" stroke-width="1.2" stroke-linejoin="miter"/>
<path d="M676.9,722.8 L682.9,732.8 L670.9,732.8 Z" fill="#fff" stroke="#000" stroke-width="1.2" stroke-linejoin="miter"/>
<path d="M697.2,715.8 L703.2,725.8 L691.2,725.8 Z" fill="#fff" stroke="#000" stroke-width="1.2" stroke-linejoin="miter"/>
<path d="M717.7,725.3 L723.7,735.3 L711.7,735.3 Z" fill="#fff" stroke="#000" stroke-width="1.2" stroke-linejoin="miter"/>
<path d="M758.3,733.6 L764.3,743.6 L752.3,743.6 Z" fill="#fff" stroke="#000" stroke-width="1.2" stroke-linejoin="miter"/>
<path d="M860.5,752.9 L866.5,762.9 L854.5,762.9 Z" fill="#fff" stroke="#000" stroke-width="1.2" stroke-linejoin="miter"/>
<path d="M330.8,952.2 L337.2,958.8 L330.8,965.2 L324.2,958.8 Z" fill="#fff" stroke="#000" stroke-width="1.2"/>
<path d="M352,920.5 L358.5,927 L352,933.5 L345.5,927 Z" fill="#fff" stroke="#000" stroke-width="1.2"/>
<path d="M372.5,889 L379,895.5 L372.5,902 L366,895.5 Z" fill="#fff" stroke="#000" stroke-width="1.2"/>
<path d="M392.3,853.9 L398.8,860.4 L392.3,866.9 L385.8,860.4 Z" fill="#fff" stroke="#000" stroke-width="1.2"/>
<path d="M413.2,817.1 L419.7,823.6 L413.2,830.1 L406.7,823.6 Z" fill="#fff" stroke="#000" stroke-width="1.2"/>
<path d="M432.8,777.8 L439.3,784.3 L432.8,790.8 L426.3,784.3 Z" fill="#fff" stroke="#000" stroke-width="1.2"/>
<path d="M453.1,746.5 L459.6,753 L453.1,759.5 L446.6,753 Z" fill="#fff" stroke="#000" stroke-width="1.2"/>
<path d="M473.6,717 L480.1,723.5 L473.6,730 L467.1,723.5 Z" fill="#fff" stroke="#000" stroke-width="1.2"/>
<path d="M494.2,691.2 L500.7,697.7 L494.2,704.2 L487.7,697.7 Z" fill="#fff" stroke="#000" stroke-width="1.2"/>
<path d="M514.2,677.1 L520.7,683.6 L514.2,690.1 L507.7,683.6 Z" fill="#fff" stroke="#000" stroke-width="1.2"/>
<path d="M535,682 L541.5,688.5 L535,695 L528.5,688.5 Z" fill="#fff" stroke="#000" stroke-width="1.2"/>
<path d="M575.6,688.5 L582.1,695 L575.6,701.5 L569.1,695 Z" fill="#fff" stroke="#000" stroke-width="1.2"/>
<path d="M595.8,692.5 L602.3,699 L595.8,705.5 L589.3,699 Z" fill="#fff" stroke="#000" stroke-width="1.2"/>
<path d="M616.1,697.5 L622.6,704 L616.1,710.5 L609.6,704 Z" fill="#fff" stroke="#000" stroke-width="1.2"/>
<path d="M636.4,702.5 L642.9,709 L636.4,715.5 L629.9,709 Z" fill="#fff" stroke="#000" stroke-width="1.2"/>
<path d="M656.3,708.5 L662.8,715 L656.3,721.5 L649.8,715 Z" fill="#fff" stroke="#000" stroke-width="1.2"/>
<path d="M697.2,715.5 L703.7,722 L697.2,728.5 L690.7,722 Z" fill="#fff" stroke="#000" stroke-width="1.2"/>
<path d="M307.2,1058 L315.2,1066 M307.2,1066 L315.2,1058" stroke="#000" stroke-width="1.5" fill="none"/>
<path d="M316.5,1040.2 L324.5,1048.2 M316.5,1048.2 L324.5,1040.2" stroke="#000" stroke-width="1.5" fill="none"/>
<path d="M326.8,1008 L334.8,1016 M326.8,1016 L334.8,1008" stroke="#000" stroke-width="1.5" fill="none"/>
<path d="M348,952.2 L356,960.2 M348,960.2 L356,952.2" stroke="#000" stroke-width="1.5" fill="none"/>
<path d="M368.5,908 L376.5,916 M368.5,916 L376.5,908" stroke="#000" stroke-width="1.5" fill="none"/>
<path d="M388.3,866.3 L396.3,874.3 M388.3,874.3 L396.3,866.3" stroke="#000" stroke-width="1.5" fill="none"/>
<path d="M409.2,837.1 L417.2,845.1 M409.2,845.1 L417.2,837.1" stroke="#000" stroke-width="1.5" fill="none"/>
<path d="M428.8,806.4 L436.8,814.4 M428.8,814.4 L436.8,806.4" stroke="#000" stroke-width="1.5" fill="none"/>
<path d="M449.1,787 L457.1,795 M449.1,795 L457.1,787" stroke="#000" stroke-width="1.5" fill="none"/>
<path d="M469.6,761 L477.6,769 M469.6,769 L477.6,761" stroke="#000" stroke-width="1.5" fill="none"/>
<path d="M490.2,741 L498.2,749 M490.2,749 L498.2,741" stroke="#000" stroke-width="1.5" fill="none"/>
<path d="M510.2,722 L518.2,730 M510.2,730 L518.2,722" stroke="#000" stroke-width="1.5" fill="none"/>
<path d="M531,705.1 L539,713.1 M531,713.1 L539,705.1" stroke="#000" stroke-width="1.5" fill="none"/>
<path d="M551,688.8 L559,696.8 M551,696.8 L559,688.8" stroke="#000" stroke-width="1.5" fill="none"/>
<path d="M571.6,692.8 L579.6,700.8 M571.6,700.8 L579.6,692.8" stroke="#000" stroke-width="1.5" fill="none"/>
<path d="M581.7,692.8 L589.7,700.8 M581.7,700.8 L589.7,692.8" stroke="#000" stroke-width="1.5" fill="none"/>
<path d="M602.3,697.4 L610.3,705.4 M602.3,705.4 L610.3,697.4" stroke="#000" stroke-width="1.5" fill="none"/>
<path d="M621.6,699.9 L629.6,707.9 M621.6,707.9 L629.6,699.9" stroke="#000" stroke-width="1.5" fill="none"/>
<path d="M642.5,705.1 L650.5,713.1 M642.5,713.1 L650.5,705.1" stroke="#000" stroke-width="1.5" fill="none"/>
<path d="M673,711.2 L681,719.2 M673,719.2 L681,711.2" stroke="#000" stroke-width="1.5" fill="none"/>
<circle cx="310.5" cy="1149.2" r="5" fill="#fff" stroke="#000" stroke-width="1.2"/>
<circle cx="330.8" cy="1081.2" r="5" fill="#fff" stroke="#000" stroke-width="1.2"/>
<circle cx="351.5" cy="999.5" r="5" fill="#fff" stroke="#000" stroke-width="1.2"/>
<circle cx="372" cy="951.2" r="5" fill="#fff" stroke="#000" stroke-width="1.2"/>
<circle cx="392.5" cy="882" r="5" fill="#fff" stroke="#000" stroke-width="1.2"/>
<circle cx="413.2" cy="834.4" r="5" fill="#fff" stroke="#000" stroke-width="1.2"/>
<circle cx="432.8" cy="796" r="5" fill="#fff" stroke="#000" stroke-width="1.2"/>
<circle cx="453.1" cy="762.8" r="5" fill="#fff" stroke="#000" stroke-width="1.2"/>
<circle cx="473.6" cy="734.6" r="5" fill="#fff" stroke="#000" stroke-width="1.2"/>
<circle cx="494.2" cy="709.1" r="5" fill="#fff" stroke="#000" stroke-width="1.2"/>
<circle cx="514.2" cy="686.7" r="5" fill="#fff" stroke="#000" stroke-width="1.2"/>
<circle cx="535" cy="685.4" r="5" fill="#fff" stroke="#000" stroke-width="1.2"/>
<circle cx="555" cy="688.5" r="5" fill="#fff" stroke="#000" stroke-width="1.2"/>
<circle cx="575.6" cy="692.8" r="5" fill="#fff" stroke="#000" stroke-width="1.2"/>
<circle cx="595.8" cy="697.7" r="5" fill="#fff" stroke="#000" stroke-width="1.2"/>
<circle cx="616.1" cy="702.3" r="5" fill="#fff" stroke="#000" stroke-width="1.2"/>
<circle cx="636.4" cy="707" r="5" fill="#fff" stroke="#000" stroke-width="1.2"/>
<circle cx="656.3" cy="711.5" r="5" fill="#fff" stroke="#000" stroke-width="1.2"/>
<circle cx="697.2" cy="721.4" r="5" fill="#fff" stroke="#000" stroke-width="1.2"/>
<circle cx="758.3" cy="734.6" r="5" fill="#fff" stroke="#000" stroke-width="1.2"/>
<circle cx="860.5" cy="755.1" r="5" fill="#fff" stroke="#000" stroke-width="1.2"/>
<rect x="434.5" y="1095.6" width="470.5" height="35" fill="#fff"/>
<rect x="549" y="1124" width="270" height="20.5" fill="#fff"/>
<rect x="495.5" y="845.2" width="373.3" height="248.2" fill="#fff"/>
<line x1="503.9" y1="844.2" x2="503.9" y2="851.6" stroke="#000" stroke-width="1.1"/>
<line x1="503.9" y1="1094.4" x2="503.9" y2="1087" stroke="#000" stroke-width="1.1"/>
<line x1="513.3" y1="844.2" x2="513.3" y2="851.6" stroke="#000" stroke-width="1.1"/>
<line x1="513.3" y1="1094.4" x2="513.3" y2="1087" stroke="#000" stroke-width="1.1"/>
<line x1="522.6" y1="844.2" x2="522.6" y2="851.6" stroke="#000" stroke-width="1.1"/>
<line x1="522.6" y1="1094.4" x2="522.6" y2="1087" stroke="#000" stroke-width="1.1"/>
<line x1="532" y1="844.2" x2="532" y2="851.6" stroke="#000" stroke-width="1.1"/>
<line x1="532" y1="1094.4" x2="532" y2="1087" stroke="#000" stroke-width="1.1"/>
<line x1="541.4" y1="844.2" x2="541.4" y2="855.6" stroke="#000" stroke-width="1.1"/>
<line x1="541.4" y1="1094.4" x2="541.4" y2="1083" stroke="#000" stroke-width="1.1"/>
<line x1="550.8" y1="844.2" x2="550.8" y2="851.6" stroke="#000" stroke-width="1.1"/>
<line x1="550.8" y1="1094.4" x2="550.8" y2="1087" stroke="#000" stroke-width="1.1"/>
<line x1="560.2" y1="844.2" x2="560.2" y2="851.6" stroke="#000" stroke-width="1.1"/>
<line x1="560.2" y1="1094.4" x2="560.2" y2="1087" stroke="#000" stroke-width="1.1"/>
<line x1="569.6" y1="844.2" x2="569.6" y2="851.6" stroke="#000" stroke-width="1.1"/>
<line x1="569.6" y1="1094.4" x2="569.6" y2="1087" stroke="#000" stroke-width="1.1"/>
<line x1="578.9" y1="844.2" x2="578.9" y2="851.6" stroke="#000" stroke-width="1.1"/>
<line x1="578.9" y1="1094.4" x2="578.9" y2="1087" stroke="#000" stroke-width="1.1"/>
<line x1="588.3" y1="844.2" x2="588.3" y2="855.6" stroke="#000" stroke-width="1.1"/>
<line x1="588.3" y1="1094.4" x2="588.3" y2="1083" stroke="#000" stroke-width="1.1"/>
<line x1="597.7" y1="844.2" x2="597.7" y2="851.6" stroke="#000" stroke-width="1.1"/>
<line x1="597.7" y1="1094.4" x2="597.7" y2="1087" stroke="#000" stroke-width="1.1"/>
<line x1="607.1" y1="844.2" x2="607.1" y2="851.6" stroke="#000" stroke-width="1.1"/>
<line x1="607.1" y1="1094.4" x2="607.1" y2="1087" stroke="#000" stroke-width="1.1"/>
<line x1="616.5" y1="844.2" x2="616.5" y2="851.6" stroke="#000" stroke-width="1.1"/>
<line x1="616.5" y1="1094.4" x2="616.5" y2="1087" stroke="#000" stroke-width="1.1"/>
<line x1="625.9" y1="844.2" x2="625.9" y2="851.6" stroke="#000" stroke-width="1.1"/>
<line x1="625.9" y1="1094.4" x2="625.9" y2="1087" stroke="#000" stroke-width="1.1"/>
<line x1="635.2" y1="844.2" x2="635.2" y2="855.6" stroke="#000" stroke-width="1.1"/>
<line x1="635.2" y1="1094.4" x2="635.2" y2="1083" stroke="#000" stroke-width="1.1"/>
<line x1="644.6" y1="844.2" x2="644.6" y2="851.6" stroke="#000" stroke-width="1.1"/>
<line x1="644.6" y1="1094.4" x2="644.6" y2="1087" stroke="#000" stroke-width="1.1"/>
<line x1="654" y1="844.2" x2="654" y2="851.6" stroke="#000" stroke-width="1.1"/>
<line x1="654" y1="1094.4" x2="654" y2="1087" stroke="#000" stroke-width="1.1"/>
<line x1="663.4" y1="844.2" x2="663.4" y2="851.6" stroke="#000" stroke-width="1.1"/>
<line x1="663.4" y1="1094.4" x2="663.4" y2="1087" stroke="#000" stroke-width="1.1"/>
<line x1="672.8" y1="844.2" x2="672.8" y2="851.6" stroke="#000" stroke-width="1.1"/>
<line x1="672.8" y1="1094.4" x2="672.8" y2="1087" stroke="#000" stroke-width="1.1"/>
<line x1="682.1" y1="844.2" x2="682.1" y2="855.6" stroke="#000" stroke-width="1.1"/>
<line x1="682.1" y1="1094.4" x2="682.1" y2="1083" stroke="#000" stroke-width="1.1"/>
<line x1="691.5" y1="844.2" x2="691.5" y2="851.6" stroke="#000" stroke-width="1.1"/>
<line x1="691.5" y1="1094.4" x2="691.5" y2="1087" stroke="#000" stroke-width="1.1"/>
<line x1="700.9" y1="844.2" x2="700.9" y2="851.6" stroke="#000" stroke-width="1.1"/>
<line x1="700.9" y1="1094.4" x2="700.9" y2="1087" stroke="#000" stroke-width="1.1"/>
<line x1="710.3" y1="844.2" x2="710.3" y2="851.6" stroke="#000" stroke-width="1.1"/>
<line x1="710.3" y1="1094.4" x2="710.3" y2="1087" stroke="#000" stroke-width="1.1"/>
<line x1="719.7" y1="844.2" x2="719.7" y2="851.6" stroke="#000" stroke-width="1.1"/>
<line x1="719.7" y1="1094.4" x2="719.7" y2="1087" stroke="#000" stroke-width="1.1"/>
<line x1="729.1" y1="844.2" x2="729.1" y2="855.6" stroke="#000" stroke-width="1.1"/>
<line x1="729.1" y1="1094.4" x2="729.1" y2="1083" stroke="#000" stroke-width="1.1"/>
<line x1="738.4" y1="844.2" x2="738.4" y2="851.6" stroke="#000" stroke-width="1.1"/>
<line x1="738.4" y1="1094.4" x2="738.4" y2="1087" stroke="#000" stroke-width="1.1"/>
<line x1="747.8" y1="844.2" x2="747.8" y2="851.6" stroke="#000" stroke-width="1.1"/>
<line x1="747.8" y1="1094.4" x2="747.8" y2="1087" stroke="#000" stroke-width="1.1"/>
<line x1="757.2" y1="844.2" x2="757.2" y2="851.6" stroke="#000" stroke-width="1.1"/>
<line x1="757.2" y1="1094.4" x2="757.2" y2="1087" stroke="#000" stroke-width="1.1"/>
<line x1="766.6" y1="844.2" x2="766.6" y2="851.6" stroke="#000" stroke-width="1.1"/>
<line x1="766.6" y1="1094.4" x2="766.6" y2="1087" stroke="#000" stroke-width="1.1"/>
<line x1="776" y1="844.2" x2="776" y2="855.6" stroke="#000" stroke-width="1.1"/>
<line x1="776" y1="1094.4" x2="776" y2="1083" stroke="#000" stroke-width="1.1"/>
<line x1="785.4" y1="844.2" x2="785.4" y2="851.6" stroke="#000" stroke-width="1.1"/>
<line x1="785.4" y1="1094.4" x2="785.4" y2="1087" stroke="#000" stroke-width="1.1"/>
<line x1="794.7" y1="844.2" x2="794.7" y2="851.6" stroke="#000" stroke-width="1.1"/>
<line x1="794.7" y1="1094.4" x2="794.7" y2="1087" stroke="#000" stroke-width="1.1"/>
<line x1="804.1" y1="844.2" x2="804.1" y2="851.6" stroke="#000" stroke-width="1.1"/>
<line x1="804.1" y1="1094.4" x2="804.1" y2="1087" stroke="#000" stroke-width="1.1"/>
<line x1="813.5" y1="844.2" x2="813.5" y2="851.6" stroke="#000" stroke-width="1.1"/>
<line x1="813.5" y1="1094.4" x2="813.5" y2="1087" stroke="#000" stroke-width="1.1"/>
<line x1="822.9" y1="844.2" x2="822.9" y2="855.6" stroke="#000" stroke-width="1.1"/>
<line x1="822.9" y1="1094.4" x2="822.9" y2="1083" stroke="#000" stroke-width="1.1"/>
<line x1="832.3" y1="844.2" x2="832.3" y2="851.6" stroke="#000" stroke-width="1.1"/>
<line x1="832.3" y1="1094.4" x2="832.3" y2="1087" stroke="#000" stroke-width="1.1"/>
<line x1="841.7" y1="844.2" x2="841.7" y2="851.6" stroke="#000" stroke-width="1.1"/>
<line x1="841.7" y1="1094.4" x2="841.7" y2="1087" stroke="#000" stroke-width="1.1"/>
<line x1="851" y1="844.2" x2="851" y2="851.6" stroke="#000" stroke-width="1.1"/>
<line x1="851" y1="1094.4" x2="851" y2="1087" stroke="#000" stroke-width="1.1"/>
<line x1="860.4" y1="844.2" x2="860.4" y2="851.6" stroke="#000" stroke-width="1.1"/>
<line x1="860.4" y1="1094.4" x2="860.4" y2="1087" stroke="#000" stroke-width="1.1"/>
<line x1="494.5" y1="1073.6" x2="501.9" y2="1073.6" stroke="#000" stroke-width="1.1"/>
<line x1="869.8" y1="1073.6" x2="862.4" y2="1073.6" stroke="#000" stroke-width="1.1"/>
<line x1="494.5" y1="1052.7" x2="505.9" y2="1052.7" stroke="#000" stroke-width="1.1"/>
<line x1="869.8" y1="1052.7" x2="858.4" y2="1052.7" stroke="#000" stroke-width="1.1"/>
<line x1="494.5" y1="1031.9" x2="501.9" y2="1031.9" stroke="#000" stroke-width="1.1"/>
<line x1="869.8" y1="1031.9" x2="862.4" y2="1031.9" stroke="#000" stroke-width="1.1"/>
<line x1="494.5" y1="1011" x2="505.9" y2="1011" stroke="#000" stroke-width="1.1"/>
<line x1="869.8" y1="1011" x2="858.4" y2="1011" stroke="#000" stroke-width="1.1"/>
<line x1="494.5" y1="990.2" x2="501.9" y2="990.2" stroke="#000" stroke-width="1.1"/>
<line x1="869.8" y1="990.2" x2="862.4" y2="990.2" stroke="#000" stroke-width="1.1"/>
<line x1="494.5" y1="969.3" x2="505.9" y2="969.3" stroke="#000" stroke-width="1.1"/>
<line x1="869.8" y1="969.3" x2="858.4" y2="969.3" stroke="#000" stroke-width="1.1"/>
<line x1="494.5" y1="948.5" x2="501.9" y2="948.5" stroke="#000" stroke-width="1.1"/>
<line x1="869.8" y1="948.5" x2="862.4" y2="948.5" stroke="#000" stroke-width="1.1"/>
<line x1="494.5" y1="927.6" x2="505.9" y2="927.6" stroke="#000" stroke-width="1.1"/>
<line x1="869.8" y1="927.6" x2="858.4" y2="927.6" stroke="#000" stroke-width="1.1"/>
<line x1="494.5" y1="906.8" x2="501.9" y2="906.8" stroke="#000" stroke-width="1.1"/>
<line x1="869.8" y1="906.8" x2="862.4" y2="906.8" stroke="#000" stroke-width="1.1"/>
<line x1="494.5" y1="885.9" x2="505.9" y2="885.9" stroke="#000" stroke-width="1.1"/>
<line x1="869.8" y1="885.9" x2="858.4" y2="885.9" stroke="#000" stroke-width="1.1"/>
<line x1="494.5" y1="865.1" x2="501.9" y2="865.1" stroke="#000" stroke-width="1.1"/>
<line x1="869.8" y1="865.1" x2="862.4" y2="865.1" stroke="#000" stroke-width="1.1"/>
<rect x="494.5" y="844.2" width="375.3" height="250.2" fill="none" stroke="#000" stroke-width="2"/>
<text x="482.5" y="1103.1" font-family="'Liberation Sans', Arial, sans-serif" font-size="24" text-anchor="end">0</text>
<text x="482.5" y="1061.4" font-family="'Liberation Sans', Arial, sans-serif" font-size="24" text-anchor="end">0.1</text>
<text x="482.5" y="1019.7" font-family="'Liberation Sans', Arial, sans-serif" font-size="24" text-anchor="end">0.2</text>
<text x="482.5" y="978" font-family="'Liberation Sans', Arial, sans-serif" font-size="24" text-anchor="end">0.3</text>
<text x="482.5" y="936.3" font-family="'Liberation Sans', Arial, sans-serif" font-size="24" text-anchor="end">0.4</text>
<text x="482.5" y="894.6" font-family="'Liberation Sans', Arial, sans-serif" font-size="24" text-anchor="end">0.5</text>
<text x="482.5" y="852.9" font-family="'Liberation Sans', Arial, sans-serif" font-size="24" text-anchor="end">0.6</text>
<text x="494.5" y="1120.5" font-family="'Liberation Sans', Arial, sans-serif" font-size="24" text-anchor="middle">0.000</text>
<text x="588.3" y="1120.5" font-family="'Liberation Sans', Arial, sans-serif" font-size="24" text-anchor="middle">0.010</text>
<text x="682.1" y="1120.5" font-family="'Liberation Sans', Arial, sans-serif" font-size="24" text-anchor="middle">0.020</text>
<text x="776" y="1120.5" font-family="'Liberation Sans', Arial, sans-serif" font-size="24" text-anchor="middle">0.030</text>
<text x="869.8" y="1120.5" font-family="'Liberation Sans', Arial, sans-serif" font-size="24" text-anchor="middle">0.040</text>
<text x="553" y="1143" font-family="'Liberation Sans', Arial, sans-serif" font-size="22.5" textLength="262.3" lengthAdjust="spacingAndGlyphs">Susceptibility (emu/mol)</text>
<text x="425.6" y="1004.5" font-family="'Liberation Sans', Arial, sans-serif" font-size="25" transform="rotate(-90 425.6 1004.5)">K<tspan font-size="17" dy="7">2</tspan><tspan dy="-7"> (%)</tspan></text>
<line x1="498.2" y1="1093.8" x2="869.7" y2="860.7" stroke="#000" stroke-width="1.8"/>
<circle cx="518.1" cy="1082.1" r="3.6" fill="#fff" stroke="#000" stroke-width="1.2"/>
<circle cx="522.3" cy="1080.1" r="3.6" fill="#fff" stroke="#000" stroke-width="1.2"/>
<circle cx="526.6" cy="1077.3" r="3.6" fill="#fff" stroke="#000" stroke-width="1.2"/>
<circle cx="530.9" cy="1073.6" r="3.6" fill="#fff" stroke="#000" stroke-width="1.2"/>
<circle cx="536" cy="1067.4" r="3.6" fill="#fff" stroke="#000" stroke-width="1.2"/>
<circle cx="549.3" cy="1061.7" r="3.6" fill="#fff" stroke="#000" stroke-width="1.2"/>
<circle cx="565.8" cy="1050.3" r="3.6" fill="#fff" stroke="#000" stroke-width="1.2"/>
<circle cx="581.2" cy="1040.9" r="3.6" fill="#fff" stroke="#000" stroke-width="1.2"/>
<circle cx="605.6" cy="1026.1" r="3.6" fill="#fff" stroke="#000" stroke-width="1.2"/>
<circle cx="648" cy="1000" r="3.6" fill="#fff" stroke="#000" stroke-width="1.2"/>
<circle cx="687.2" cy="975.5" r="3.6" fill="#fff" stroke="#000" stroke-width="1.2"/>
<circle cx="757.7" cy="930.9" r="3.6" fill="#fff" stroke="#000" stroke-width="1.2"/>
<circle cx="794.6" cy="899.6" r="3.6" fill="#fff" stroke="#000" stroke-width="1.2"/>
<circle cx="839.3" cy="853.3" r="3.6" fill="#fff" stroke="#000" stroke-width="1.2"/>
<line x1="518.1" y1="1038.9" x2="518.1" y2="1060" stroke="#000" stroke-width="1.5"/>
<path d="M518.1,1073 L513.1,1059 L523.1,1059 Z" fill="#000"/>
<line x1="758.3" y1="977.8" x2="758.3" y2="955.3" stroke="#000" stroke-width="1.5"/>
<path d="M758.3,942.3 L763.3,956.3 L753.3,956.3 Z" fill="#000"/>
<line x1="839.3" y1="916.7" x2="839.3" y2="876.5" stroke="#000" stroke-width="1.5"/>
<path d="M839.3,863.5 L844.3,877.5 L834.3,877.5 Z" fill="#000"/>
<text x="513.4" y="1028.4" font-family="'Liberation Sans', Arial, sans-serif" font-size="24">200K</text>
<text x="738.5" y="1005.7" font-family="'Liberation Sans', Arial, sans-serif" font-size="24">10K</text>
<text x="823" y="945.1" font-family="'Liberation Sans', Arial, sans-serif" font-size="24">6K</text>
<text x="576.3" y="931.8" font-family="'Liberation Sans', Arial, sans-serif" font-size="28.5">0.6 T</text>
<rect x="1030.6" y="28" width="688.3" height="457.5" fill="none" stroke="#000" stroke-width="2.5"/>
<line x1="1030.6" y1="55.8" x2="1043" y2="55.8" stroke="#000" stroke-width="2.2"/>
<line x1="1030.6" y1="127.8" x2="1037" y2="127.8" stroke="#000" stroke-width="2.2"/>
<line x1="1030.6" y1="198.9" x2="1043" y2="198.9" stroke="#000" stroke-width="2.2"/>
<line x1="1030.6" y1="270" x2="1037" y2="270" stroke="#000" stroke-width="2.2"/>
<line x1="1030.6" y1="341" x2="1043" y2="341" stroke="#000" stroke-width="2.2"/>
<line x1="1030.6" y1="412.6" x2="1037" y2="412.6" stroke="#000" stroke-width="2.2"/>
<line x1="1078.5" y1="485.5" x2="1078.5" y2="477.9" stroke="#000" stroke-width="2.2"/>
<line x1="1158.6" y1="485.5" x2="1158.6" y2="473.5" stroke="#000" stroke-width="2.2"/>
<line x1="1238" y1="485.5" x2="1238" y2="477.9" stroke="#000" stroke-width="2.2"/>
<line x1="1319.5" y1="485.5" x2="1319.5" y2="473.5" stroke="#000" stroke-width="2.2"/>
<line x1="1398.6" y1="485.5" x2="1398.6" y2="477.9" stroke="#000" stroke-width="2.2"/>
<line x1="1477.8" y1="485.5" x2="1477.8" y2="473.5" stroke="#000" stroke-width="2.2"/>
<line x1="1559.4" y1="485.5" x2="1559.4" y2="477.9" stroke="#000" stroke-width="2.2"/>
<line x1="1637.9" y1="485.5" x2="1637.9" y2="473.5" stroke="#000" stroke-width="2.2"/>
<text x="1159.2" y="517.2" font-family="'DejaVu Sans', sans-serif" font-size="25.5" text-anchor="middle">1</text>
<text x="1317" y="517.2" font-family="'DejaVu Sans', sans-serif" font-size="25.5" text-anchor="middle">2</text>
<text x="1475.3" y="517.2" font-family="'DejaVu Sans', sans-serif" font-size="25.5" text-anchor="middle">3</text>
<text x="1635.4" y="517.2" font-family="'DejaVu Sans', sans-serif" font-size="25.5" text-anchor="middle">4</text>
<text x="1229.5" y="544.3" font-family="'DejaVu Sans', sans-serif" font-size="30.2" textLength="266.5" lengthAdjust="spacingAndGlyphs">Magnetic field (T)</text>
<text x="1016.6" y="495.9" font-family="'DejaVu Sans', sans-serif" font-size="31.2" textLength="471.9" lengthAdjust="spacingAndGlyphs" transform="rotate(-90 1016.6 495.9)">Cavity transmission [arb.units]</text>
<text x="920.1" y="51.3" font-family="'DejaVu Sans', sans-serif" font-size="42.5">(c)</text>
<text x="1104.2" y="85.8" font-family="'DejaVu Sans', sans-serif" font-size="30.3">CeB<tspan dy="6.1" dx="0.8" font-size="31.5">6</tspan></text>
<text x="1344" y="453.9" font-family="'DejaVu Sans', sans-serif" font-size="26" textLength="73" lengthAdjust="spacingAndGlyphs">DPPH</text>
<text x="1619.5" y="73.6" font-family="'Liberation Sans', Arial, sans-serif" font-size="22.5" textLength="62.2" lengthAdjust="spacingAndGlyphs" fill="#222">3.2 K</text>
<text x="1621" y="111.5" font-family="'Liberation Sans', Arial, sans-serif" font-size="22.5" textLength="62.9" lengthAdjust="spacingAndGlyphs" fill="#222">3.0 K</text>
<text x="1618.8" y="162.7" font-family="'Liberation Sans', Arial, sans-serif" font-size="22.5" textLength="62.9" lengthAdjust="spacingAndGlyphs" fill="#222">2.6 K</text>
<text x="1535" y="210.9" font-family="'Liberation Sans', Arial, sans-serif" font-size="22.5" textLength="79" lengthAdjust="spacingAndGlyphs" fill="#222">2.22 K</text>
<text x="1639.6" y="214.4" font-family="'Liberation Sans', Arial, sans-serif" font-size="22.5" textLength="64" lengthAdjust="spacingAndGlyphs" fill="#222">2.1 K</text>
<text x="1603.5" y="257.5" font-family="'Liberation Sans', Arial, sans-serif" font-size="22.5" textLength="76" lengthAdjust="spacingAndGlyphs" fill="#222">1.96 K</text>
<path d="M1032.6,279 C1037.3,278.8 1050.7,279 1061,277.7 C1071.3,276.4 1082.5,273.6 1094.5,271.2 C1106.5,268.8 1121.2,266.8 1133.2,263.5 C1145.2,260.2 1156.4,255.1 1166.7,251.5 C1177,247.9 1184.3,246.1 1195.1,242 C1205.8,237.9 1220,231.6 1231.2,227 C1242.4,222.4 1252.3,218.5 1262.1,214.6 C1271.9,210.7 1282.3,206.7 1290,203.5 C1297.7,200.3 1300.4,198.8 1308.1,195.5 C1315.8,192.2 1329.3,186.2 1336.3,183.5 C1343.3,180.8 1350.3,179.3 1350.3,179.3 C1350.3,179.3 1355,186 1355,186 C1355,186 1358.8,197.6 1358.8,197.6 C1358.8,197.6 1360.2,177.9 1360.2,177.9 C1360.2,177.9 1359,173.8 1364.4,172.2 C1369.8,170.5 1383.1,169.2 1392.5,168 C1401.9,166.8 1410.4,166.4 1420.7,165.2 C1431,164 1445.1,163.1 1454.5,161 C1463.9,158.9 1468.6,156.5 1477,152.5 C1485.4,148.5 1495.8,142 1505.1,137.1 C1514.4,132.2 1522.7,128.6 1532.8,122.9 C1542.9,117.2 1555.8,108.7 1565.7,103.2 C1575.6,97.7 1582.1,93.9 1591.9,90.1 C1601.8,86.3 1619.3,81.8 1624.8,80.2" fill="none" stroke="#1a1a1a" stroke-width="1.9" stroke-linejoin="round"/>
<polyline points="1681.7,57.2 1716.7,44.1" fill="none" stroke="#1a1a1a" stroke-width="1.9" stroke-linejoin="round"/>
<path d="M1032.6,298.3 C1037.3,298.3 1050.7,299.4 1061,298.3 C1071.3,297.2 1083.3,293.8 1094.5,291.9 C1105.7,290 1117.2,289.3 1128,286.7 C1138.8,284.1 1147.4,280.5 1159,276.4 C1170.6,272.3 1184.8,267.4 1197.7,262.2 C1210.6,257 1222.6,250.1 1236.3,245.4 C1250,240.7 1268,237.8 1280,234.1 C1292,230.3 1298.7,226.9 1308.1,222.9 C1317.5,218.9 1329.3,213 1336.3,210.2 C1343.3,207.4 1350.3,206 1350.3,206 C1350.3,206 1355,213 1355,213 C1355,213 1359.3,225.7 1359.3,225.7 C1359.3,225.7 1360.6,204 1360.6,204 C1360.6,204 1359.1,202.2 1364.4,200.4 C1369.7,198.6 1383.1,194.3 1392.5,193.4 C1401.9,192.5 1412.2,194.8 1420.7,194.8 C1429.2,194.8 1434.8,195.8 1443.2,193.4 C1451.6,191.1 1463.3,185.2 1471.3,180.7 C1479.3,176.2 1486.2,170 1491,166.6 C1495.8,163.2 1493,163.7 1500,160.1 C1507,156.5 1521.8,149.6 1532.8,144.8 C1543.8,140.1 1555.8,135.2 1565.7,131.6 C1575.6,127.9 1582.8,126.4 1591.9,122.9 C1601,119.5 1615.7,112.9 1620.4,110.9" fill="none" stroke="#1a1a1a" stroke-width="1.9" stroke-linejoin="round"/>
<polyline points="1686,99.9 1716.7,94.4" fill="none" stroke="#1a1a1a" stroke-width="1.9" stroke-linejoin="round"/>
<path d="M1032.6,343.5 C1038.6,342 1056.2,338.3 1068.7,334.4 C1081.2,330.5 1094.5,324.9 1107.4,320.2 C1120.3,315.5 1135.3,309.9 1146.1,306 C1156.8,302.1 1162,300.9 1171.9,297 C1181.8,293.1 1194.7,287.1 1205.4,282.8 C1216.1,278.5 1223.9,275 1236.3,271 C1248.7,267 1268,263.5 1280,259 C1292,254.5 1298.7,248.2 1308.1,244.2 C1317.5,240.2 1329.3,237 1336.3,234.8 C1343.3,232.7 1350.3,231.3 1350.3,231.3 C1350.3,231.3 1355,239 1355,239 C1355,239 1359.3,253.8 1359.3,253.8 C1359.3,253.8 1360.6,228 1360.6,228 C1360.6,228 1358.1,225.2 1364.4,224.3 C1370.7,223.5 1389.8,222.2 1398.2,222.9 C1406.7,223.6 1410.4,226.2 1415.1,228.5 C1419.8,230.8 1422.1,234.8 1426.3,237 C1430.5,239.2 1435.7,242.5 1440.4,242 C1445.1,241.5 1447.5,239.2 1454.5,234.1 C1461.5,229 1474.2,217 1482.6,211.6 C1491,206.2 1494.9,206.6 1505.1,201.8 C1515.3,197.1 1530,188.6 1543.8,183.1 C1557.5,177.6 1575.2,172 1587.6,168.9 C1600,165.8 1613.1,165.2 1618.2,164.5" fill="none" stroke="#1a1a1a" stroke-width="1.9" stroke-linejoin="round"/>
<path d="M1683.9,156.8 C1684.9,156.6 1687.8,155.9 1690,155.5 C1692.2,155.1 1694.5,154.5 1697,154.6 C1699.5,154.7 1701.7,156 1705,156 C1708.3,156 1714.8,154.8 1716.7,154.6" fill="none" stroke="#1a1a1a" stroke-width="1.9" stroke-linejoin="round"/>
<path d="M1032.6,395 C1037.8,394.1 1053.2,391.6 1063.5,389.9 C1073.8,388.2 1086.8,385.9 1094.5,384.7 C1102.2,383.5 1103.5,385.3 1110,382.9 C1116.5,380.5 1125,374.3 1133.2,370.5 C1141.4,366.7 1150.4,363.8 1159,360.2 C1167.6,356.6 1174.1,353.3 1184.8,348.6 C1195.5,343.9 1210.5,338.2 1223.4,331.8 C1236.3,325.4 1252.7,315.1 1262.1,309.9 C1271.5,304.6 1272.3,304 1280,300.3 C1287.7,296.6 1298.7,291.8 1308.1,287.6 C1317.5,283.4 1329.5,277.7 1336.3,275 C1343.1,272.3 1348.9,271.3 1348.9,271.3 C1348.9,271.3 1355,278 1355,278 C1355,278 1359.3,287.6 1359.3,287.6 C1359.3,287.6 1360.6,266 1360.6,266 C1360.6,266 1358.1,264.6 1364.4,262.3 C1370.7,260 1389.8,252.9 1398.2,252.4 C1406.7,251.9 1409.5,255.5 1415.1,259.5 C1420.7,263.5 1426.8,271.7 1431.9,276.4 C1437.1,281.1 1440.8,288.6 1446,287.6 C1451.2,286.7 1457.7,276.3 1462.9,270.7 C1468.1,265.1 1472.3,258.9 1477,253.8 C1481.7,248.7 1486.3,243.8 1491,239.8 C1495.7,235.8 1500.4,233 1505.1,229.9 C1509.8,226.8 1514.6,224 1519.2,221.5 C1523.8,219 1530.5,215.9 1532.8,214.8" fill="none" stroke="#1a1a1a" stroke-width="1.9" stroke-linejoin="round"/>
<path d="M1616,189.7 C1622.2,187.9 1639.7,182 1653.2,178.7 C1666.7,175.4 1686.4,171.3 1697,170 C1707.6,168.7 1713.4,170.8 1716.7,171" fill="none" stroke="#1a1a1a" stroke-width="1.9" stroke-linejoin="round"/>
<path d="M1032.6,435 C1038.6,434.1 1056.2,431.2 1068.7,429.9 C1081.2,428.6 1099.7,427.9 1107.4,427.3 C1115.1,426.7 1108.6,428.6 1115.1,426 C1121.5,423.4 1134.5,417.4 1146.1,411.8 C1157.7,406.2 1171.9,399.2 1184.8,392.5 C1197.7,385.8 1210.5,378.7 1223.4,371.8 C1236.3,364.9 1252.7,356.3 1262.1,351.2 C1271.5,346.1 1272.3,345.1 1280,341.1 C1287.7,337.1 1298.7,331.5 1308.1,327 C1317.5,322.5 1329.5,317.4 1336.3,314.3 C1343.1,311.2 1348.9,308.7 1348.9,308.7 C1348.9,308.7 1355,316 1355,316 C1355,316 1359.3,327 1359.3,327 C1359.3,327 1360.6,307 1360.6,307 C1360.6,307 1357.7,306.3 1364.4,303.1 C1371.1,299.9 1392.5,289.5 1401,287.6 C1409.5,285.7 1409.9,287.6 1415.1,291.8 C1420.2,296 1426.8,306.8 1431.9,312.9 C1437.1,319 1440.8,328.9 1446,328.4 C1451.2,327.9 1457.7,316.2 1462.9,310.1 C1468.1,304 1472.3,297 1477,291.8 C1481.7,286.6 1486.3,283.2 1491,279.2 C1495.7,275.2 1500.4,271.2 1505.1,267.9 C1509.8,264.6 1512.8,263.6 1519.2,259.5 C1525.7,255.4 1532.4,249.3 1543.8,243.3 C1555.2,237.3 1575.9,228.3 1587.6,223.6 C1599.3,218.8 1605.4,217.4 1613.8,214.8 C1622.2,212.2 1633.9,209.4 1637.9,208.3" fill="none" stroke="#1a1a1a" stroke-width="1.9" stroke-linejoin="round"/>
<polyline points="1692.6,192.9 1716.7,187.5" fill="none" stroke="#1a1a1a" stroke-width="1.9" stroke-linejoin="round"/>
<path d="M1032.6,464.7 C1038.6,463.6 1056.2,460.1 1068.7,458.2 C1081.2,456.3 1095.4,454.2 1107.4,453.1 C1119.4,452 1132.3,453 1140.9,451.3 C1149.5,449.6 1151.7,446.3 1159,442.7 C1166.3,439.1 1175.3,434.8 1184.8,429.9 C1194.2,425 1205,419.2 1215.7,413.1 C1226.4,407 1238.5,398.9 1249.2,393 C1259.9,387.1 1270.2,382.5 1280,377.6 C1289.8,372.7 1298.7,368.3 1308.1,363.6 C1317.5,358.9 1329.7,352.8 1336.3,349.5 C1342.9,346.2 1347.5,343.9 1347.5,343.9 C1347.5,343.9 1353,350 1353,350 C1353,350 1359.3,359.4 1359.3,359.4 C1359.3,359.4 1360.6,345 1360.6,345 C1360.6,345 1359.1,344.1 1364.4,341.1 C1369.7,338.1 1385,330.8 1392.5,327 C1400,323.2 1403.8,317.2 1409.4,318.6 C1415,320 1420.2,326.5 1426.3,335.4 C1432.4,344.3 1439.9,370.6 1446,372 C1452.1,373.4 1457.7,351.9 1462.9,343.9 C1468.1,335.9 1472.3,329.8 1477,324.2 C1481.7,318.6 1486.3,314.1 1491,310.1 C1495.7,306.1 1500.4,303.4 1505.1,300.3 C1509.8,297.2 1513.4,295.3 1519.2,291.8 C1525,288.3 1532.2,283.3 1540,279.2 C1547.8,275.1 1555.6,271.6 1565.7,267.4 C1575.8,263.2 1594.9,256.4 1600.7,254.2" fill="none" stroke="#1a1a1a" stroke-width="1.9" stroke-linejoin="round"/>
<polyline points="1657.6,235.6 1716.7,220.3" fill="none" stroke="#1a1a1a" stroke-width="1.9" stroke-linejoin="round"/>
<line x1="1359.3" y1="178" x2="1359.3" y2="197.6" stroke="#1a1a1a" stroke-width="2"/>
<line x1="1359.3" y1="200" x2="1359.3" y2="225.7" stroke="#1a1a1a" stroke-width="2"/>
<line x1="1359.3" y1="228" x2="1359.3" y2="253.8" stroke="#1a1a1a" stroke-width="2"/>
<line x1="1359.3" y1="262" x2="1359.3" y2="287.6" stroke="#1a1a1a" stroke-width="2"/>
<line x1="1359.3" y1="303" x2="1359.3" y2="327" stroke="#1a1a1a" stroke-width="2"/>
<line x1="1359.3" y1="341" x2="1359.3" y2="359.4" stroke="#1a1a1a" stroke-width="2"/>
<line x1="1359.3" y1="362.5" x2="1359.3" y2="425.7" stroke="#1a1a1a" stroke-width="2"/>
<line x1="1099.1" y1="358.9" x2="1099.1" y2="370.6" stroke="#000" stroke-width="1.8"/>
<path d="M1099.1,379.6 L1095.6,369.6 L1102.6,369.6 Z" fill="#000"/>
<line x1="1107.4" y1="401.5" x2="1107.4" y2="413.1" stroke="#000" stroke-width="1.8"/>
<path d="M1107.4,422.1 L1103.9,412.1 L1110.9,412.1 Z" fill="#000"/>
<line x1="1137" y1="424.7" x2="1137" y2="437.6" stroke="#000" stroke-width="1.8"/>
<path d="M1137,446.6 L1133.5,436.6 L1140.5,436.6 Z" fill="#000"/>
<line x1="1115" y1="378.3" x2="1151.2" y2="375.7" stroke="#1a1a1a" stroke-width="1.8" stroke-dasharray="7,5"/>
<line x1="1128" y1="422.1" x2="1157.7" y2="421.3" stroke="#1a1a1a" stroke-width="1.8" stroke-dasharray="7,5"/>
<line x1="1148.6" y1="449.7" x2="1205.4" y2="446.6" stroke="#1a1a1a" stroke-width="1.8" stroke-dasharray="7,5"/>
<line x1="1115.7" y1="628" x2="1115.7" y2="1141" stroke="#000" stroke-width="2.6" stroke-dasharray="11,10.5"/>
<line x1="1156.5" y1="626" x2="1156.5" y2="1139" stroke="#000" stroke-width="1.4" stroke-dasharray="9.5,11"/>
<line x1="1231.2" y1="1003" x2="1231.2" y2="1145" stroke="#555" stroke-width="1.1" stroke-dasharray="9,11"/>
<line x1="1483.5" y1="1003" x2="1483.5" y2="1141" stroke="#000" stroke-width="1.3" stroke-dasharray="10,10"/>
<line x1="1271.1" y1="628" x2="1271.1" y2="958" stroke="#000" stroke-width="1.3" stroke-dasharray="10.5,10"/>
<line x1="1295.3" y1="628" x2="1295.3" y2="958" stroke="#000" stroke-width="1.3" stroke-dasharray="10.5,10"/>
<line x1="1349.4" y1="628" x2="1349.4" y2="952" stroke="#000" stroke-width="1.4" stroke-dasharray="11,10"/>
<line x1="1238" y1="622.8" x2="1238" y2="996.4" stroke="#777" stroke-width="1.6"/>
<line x1="1238" y1="996.4" x2="1627.3" y2="996.4" stroke="#000" stroke-width="1.4"/>
<rect x="1072.3" y="622.8" width="555" height="547" fill="none" stroke="#000" stroke-width="1.5"/>
<line x1="1101.6" y1="1169.8" x2="1101.6" y2="1163.4" stroke="#000" stroke-width="1.2"/>
<line x1="1143.6" y1="1169.8" x2="1143.6" y2="1163.4" stroke="#000" stroke-width="1.2"/>
<line x1="1173.3" y1="1169.8" x2="1173.3" y2="1163.4" stroke="#000" stroke-width="1.2"/>
<line x1="1196.4" y1="1169.8" x2="1196.4" y2="1163.4" stroke="#000" stroke-width="1.2"/>
<line x1="1215.2" y1="1169.8" x2="1215.2" y2="1163.4" stroke="#000" stroke-width="1.2"/>
<line x1="1231.1" y1="1169.8" x2="1231.1" y2="1163.4" stroke="#000" stroke-width="1.2"/>
<line x1="1244.9" y1="1169.8" x2="1244.9" y2="1163.4" stroke="#000" stroke-width="1.2"/>
<line x1="1257.1" y1="1169.8" x2="1257.1" y2="1163.4" stroke="#000" stroke-width="1.2"/>
<line x1="1268" y1="1169.8" x2="1268" y2="1159.8" stroke="#000" stroke-width="1.2"/>
<line x1="1339.6" y1="1169.8" x2="1339.6" y2="1163.4" stroke="#000" stroke-width="1.2"/>
<line x1="1381.6" y1="1169.8" x2="1381.6" y2="1163.4" stroke="#000" stroke-width="1.2"/>
<line x1="1411.3" y1="1169.8" x2="1411.3" y2="1163.4" stroke="#000" stroke-width="1.2"/>
<line x1="1434.4" y1="1169.8" x2="1434.4" y2="1163.4" stroke="#000" stroke-width="1.2"/>
<line x1="1453.2" y1="1169.8" x2="1453.2" y2="1163.4" stroke="#000" stroke-width="1.2"/>
<line x1="1469.1" y1="1169.8" x2="1469.1" y2="1163.4" stroke="#000" stroke-width="1.2"/>
<line x1="1482.9" y1="1169.8" x2="1482.9" y2="1163.4" stroke="#000" stroke-width="1.2"/>
<line x1="1495.1" y1="1169.8" x2="1495.1" y2="1163.4" stroke="#000" stroke-width="1.2"/>
<line x1="1506" y1="1169.8" x2="1506" y2="1159.8" stroke="#000" stroke-width="1.2"/>
<line x1="1577.6" y1="1169.8" x2="1577.6" y2="1163.4" stroke="#000" stroke-width="1.2"/>
<line x1="1619.6" y1="1169.8" x2="1619.6" y2="1163.4" stroke="#000" stroke-width="1.2"/>
<line x1="1259.9" y1="622.8" x2="1259.9" y2="629.3" stroke="#222" stroke-width="1.2"/>
<line x1="1289.1" y1="622.8" x2="1289.1" y2="629.3" stroke="#222" stroke-width="1.2"/>
<line x1="1309.8" y1="622.8" x2="1309.8" y2="629.3" stroke="#222" stroke-width="1.2"/>
<line x1="1325.9" y1="622.8" x2="1325.9" y2="629.3" stroke="#222" stroke-width="1.2"/>
<line x1="1339.1" y1="622.8" x2="1339.1" y2="629.3" stroke="#222" stroke-width="1.2"/>
<line x1="1350.2" y1="622.8" x2="1350.2" y2="629.3" stroke="#222" stroke-width="1.2"/>
<line x1="1359.8" y1="622.8" x2="1359.8" y2="629.3" stroke="#222" stroke-width="1.2"/>
<line x1="1368.3" y1="622.8" x2="1368.3" y2="629.3" stroke="#222" stroke-width="1.2"/>
<line x1="1375.9" y1="622.8" x2="1375.9" y2="633.3" stroke="#222" stroke-width="1.2"/>
<line x1="1425.9" y1="622.8" x2="1425.9" y2="629.3" stroke="#222" stroke-width="1.2"/>
<line x1="1455.1" y1="622.8" x2="1455.1" y2="629.3" stroke="#222" stroke-width="1.2"/>
<line x1="1475.8" y1="622.8" x2="1475.8" y2="629.3" stroke="#222" stroke-width="1.2"/>
<line x1="1491.9" y1="622.8" x2="1491.9" y2="629.3" stroke="#222" stroke-width="1.2"/>
<line x1="1505.1" y1="622.8" x2="1505.1" y2="629.3" stroke="#222" stroke-width="1.2"/>
<line x1="1516.2" y1="622.8" x2="1516.2" y2="629.3" stroke="#222" stroke-width="1.2"/>
<line x1="1525.8" y1="622.8" x2="1525.8" y2="629.3" stroke="#222" stroke-width="1.2"/>
<line x1="1534.3" y1="622.8" x2="1534.3" y2="629.3" stroke="#222" stroke-width="1.2"/>
<line x1="1541.9" y1="622.8" x2="1541.9" y2="633.3" stroke="#222" stroke-width="1.2"/>
<line x1="1591.9" y1="622.8" x2="1591.9" y2="629.3" stroke="#222" stroke-width="1.2"/>
<line x1="1621.1" y1="622.8" x2="1621.1" y2="629.3" stroke="#222" stroke-width="1.2"/>
<line x1="1627.3" y1="969.3" x2="1620.3" y2="969.3" stroke="#000" stroke-width="1.2"/>
<line x1="1627.3" y1="950" x2="1620.3" y2="950" stroke="#000" stroke-width="1.2"/>
<line x1="1627.3" y1="935" x2="1620.3" y2="935" stroke="#000" stroke-width="1.2"/>
<line x1="1627.3" y1="922.7" x2="1620.3" y2="922.7" stroke="#000" stroke-width="1.2"/>
<line x1="1627.3" y1="912.3" x2="1620.3" y2="912.3" stroke="#000" stroke-width="1.2"/>
<line x1="1627.3" y1="903.3" x2="1620.3" y2="903.3" stroke="#000" stroke-width="1.2"/>
<line x1="1627.3" y1="895.4" x2="1620.3" y2="895.4" stroke="#000" stroke-width="1.2"/>
<line x1="1627.3" y1="888.3" x2="1615.3" y2="888.3" stroke="#000" stroke-width="1.2"/>
<line x1="1627.3" y1="841.6" x2="1620.3" y2="841.6" stroke="#000" stroke-width="1.2"/>
<line x1="1627.3" y1="814.3" x2="1620.3" y2="814.3" stroke="#000" stroke-width="1.2"/>
<line x1="1627.3" y1="795" x2="1620.3" y2="795" stroke="#000" stroke-width="1.2"/>
<line x1="1627.3" y1="780" x2="1620.3" y2="780" stroke="#000" stroke-width="1.2"/>
<line x1="1627.3" y1="767.7" x2="1620.3" y2="767.7" stroke="#000" stroke-width="1.2"/>
<line x1="1627.3" y1="757.3" x2="1620.3" y2="757.3" stroke="#000" stroke-width="1.2"/>
<line x1="1627.3" y1="748.3" x2="1620.3" y2="748.3" stroke="#000" stroke-width="1.2"/>
<line x1="1627.3" y1="740.4" x2="1620.3" y2="740.4" stroke="#000" stroke-width="1.2"/>
<line x1="1627.3" y1="733.3" x2="1615.3" y2="733.3" stroke="#000" stroke-width="1.2"/>
<line x1="1627.3" y1="686.6" x2="1620.3" y2="686.6" stroke="#000" stroke-width="1.2"/>
<line x1="1627.3" y1="659.3" x2="1620.3" y2="659.3" stroke="#000" stroke-width="1.2"/>
<line x1="1627.3" y1="640" x2="1620.3" y2="640" stroke="#000" stroke-width="1.2"/>
<line x1="1627.3" y1="625" x2="1620.3" y2="625" stroke="#000" stroke-width="1.2"/>
<line x1="1072.3" y1="748.3" x2="1084.3" y2="748.3" stroke="#000" stroke-width="1.3"/>
<text x="973.2" y="657.4" font-family="'DejaVu Sans', sans-serif" font-size="42.5">(d)</text>
<text x="1014.3" y="757.7" font-family="'Liberation Serif', 'Times New Roman', serif" font-size="29" textLength="49.6" lengthAdjust="spacingAndGlyphs">-1.0</text>
<text x="1005" y="1067.1" font-family="'Liberation Serif', 'Times New Roman', serif" font-size="29.5" textLength="59.5" lengthAdjust="spacingAndGlyphs">−0.5</text>
<text x="1008.4" y="1031" font-family="'DejaVu Sans', sans-serif" font-size="37" transform="rotate(-90 1008.4 1031)"><tspan font-style="italic">R</tspan><tspan font-size="21" dy="7">H</tspan><tspan dy="-7">, 10</tspan><tspan font-size="23" dy="-17">-3</tspan><tspan dy="17"> cm</tspan><tspan font-size="23" dy="-17">3</tspan><tspan dy="17">C</tspan><tspan font-size="23" dy="-17">-1</tspan></text>
<text x="1722.1" y="944.5" font-family="'DejaVu Sans', sans-serif" font-size="33.5" textLength="259.3" lengthAdjust="spacingAndGlyphs" transform="rotate(-90 1722.1 944.5)">χ/RH, arb. units</text>
<text x="1248" y="606.5" font-family="'DejaVu Sans', sans-serif" font-size="28.5">T</text>
<text x="1264.2" y="612" font-family="'DejaVu Sans', sans-serif" font-size="19.5">N</text>
<text x="1285.6" y="606.5" font-family="'DejaVu Sans', sans-serif" font-size="28.5">T</text>
<text x="1303.5" y="612" font-family="'DejaVu Sans', sans-serif" font-size="19.5">Q</text>
<text x="1104.7" y="1199.3" font-family="'DejaVu Sans', sans-serif" font-size="28.5">T</text>
<text x="1123" y="1204.8" font-family="'DejaVu Sans', sans-serif" font-size="19.5">N</text>
<text x="1144.8" y="1199.3" font-family="'DejaVu Sans', sans-serif" font-size="28.5">T</text>
<text x="1162.4" y="1204.8" font-family="'DejaVu Sans', sans-serif" font-size="19.5">Q</text>
<text x="1353.2" y="611.6" font-family="'Liberation Serif', 'Times New Roman', serif" font-size="31.5">10<tspan font-size="21.5" dy="-10">1</tspan></text>
<text x="1522.4" y="611.6" font-family="'Liberation Serif', 'Times New Roman', serif" font-size="31.5">10<tspan font-size="21.5" dy="-10">2</tspan></text>
<text x="1245.8" y="1199.6" font-family="'Liberation Serif', 'Times New Roman', serif" font-size="31.5">10<tspan font-size="21.5" dy="-10">1</tspan></text>
<text x="1486.3" y="1199.6" font-family="'Liberation Serif', 'Times New Roman', serif" font-size="31.5">10<tspan font-size="21.5" dy="-10">2</tspan></text>
<text x="1634.6" y="741.6" font-family="'Liberation Serif', 'Times New Roman', serif" font-size="31.5">10<tspan font-size="21.5" dy="-10">0</tspan></text>
<text x="1634.6" y="897" font-family="'Liberation Serif', 'Times New Roman', serif" font-size="31.5">10<tspan font-size="21.5" dy="-10">−1</tspan></text>
<text x="1581.9" y="611.6" font-family="'DejaVu Sans', sans-serif" font-size="28.5">T</text>
<text x="1598.6" y="611.6" font-family="'Liberation Serif', 'Times New Roman', serif" font-size="31.5" textLength="40.9" lengthAdjust="spacingAndGlyphs">, K</text>
<text x="1570.5" y="1199.6" font-family="'DejaVu Sans', sans-serif" font-size="28.5">T</text>
<text x="1586.6" y="1199.6" font-family="'Liberation Serif', 'Times New Roman', serif" font-size="31.5" textLength="41.5" lengthAdjust="spacingAndGlyphs">, K</text>
<text x="1082.6" y="1163.7" font-family="'Liberation Serif', 'Times New Roman', serif" font-size="26" textLength="28.6" lengthAdjust="spacingAndGlyphs">III</text>
<text x="1129.8" y="1163.7" font-family="'Liberation Serif', 'Times New Roman', serif" font-size="26" textLength="19.2" lengthAdjust="spacingAndGlyphs">II</text>
<text x="1241.2" y="937.5" font-family="'Liberation Serif', 'Times New Roman', serif" font-size="26" textLength="29.2" lengthAdjust="spacingAndGlyphs">III</text>
<text x="1272.6" y="937.5" font-family="'Liberation Serif', 'Times New Roman', serif" font-size="26" textLength="19.4" lengthAdjust="spacingAndGlyphs">II</text>
<text x="1308.6" y="937.5" font-family="'Liberation Serif', 'Times New Roman', serif" font-size="26" textLength="24" lengthAdjust="spacingAndGlyphs">Ib</text>
<text transform="translate(1442.8,837.5) scale(1.75,0.82)" font-family="'Liberation Serif', 'Times New Roman', serif" font-size="28" font-weight="300">∝</text>
<text x="1476.8" y="840.6" font-family="'DejaVu Sans', sans-serif" font-size="28">T</text>
<text x="1495.4" y="830.7" font-family="'Liberation Serif', 'Times New Roman', serif" font-size="22">−<tspan dx="2.5">0.8</tspan></text>
<line x1="1153.7" y1="1093.6" x2="1088.3" y2="1093.6" stroke="#000" stroke-width="1.2"/>
<path d="M1071.5,1093.6 L1089.3,1090.2 L1089.3,1096.9 Z" fill="#000"/>
<rect x="1107.5" y="674.5" width="18" height="15.5" fill="#fff" stroke="#000" stroke-width="1.7"/>
<rect x="1113.2" y="733.6" width="18" height="15.5" fill="#fff" stroke="#000" stroke-width="1.7"/>
<rect x="1098.4" y="870.1" width="18" height="15.5" fill="#fff" stroke="#000" stroke-width="1.7"/>
<rect x="1121.8" y="875.2" width="18" height="15.5" fill="#fff" stroke="#000" stroke-width="1.7"/>
<rect x="1126.8" y="975.2" width="18" height="15.5" fill="#fff" stroke="#000" stroke-width="1.7"/>
<rect x="1134.5" y="993.4" width="18" height="15.5" fill="#fff" stroke="#000" stroke-width="1.7"/>
<rect x="1150.9" y="994.5" width="18" height="15.5" fill="#fff" stroke="#000" stroke-width="1.7"/>
<rect x="1149.8" y="1004.2" width="18" height="15.5" fill="#fff" stroke="#000" stroke-width="1.7"/>
<rect x="1152" y="1013" width="18" height="15.5" fill="#fff" stroke="#000" stroke-width="1.7"/>
<rect x="1089.6" y="1027.3" width="18" height="15.5" fill="#fff" stroke="#000" stroke-width="1.7"/>
<rect x="1152" y="1041.5" width="18" height="15.5" fill="#fff" stroke="#000" stroke-width="1.7"/>
<rect x="1149.9" y="1076.5" width="18" height="15.5" fill="#fff" stroke="#000" stroke-width="1.7"/>
<rect x="1158.5" y="1076.5" width="18" height="15.5" fill="#fff" stroke="#000" stroke-width="1.7"/>
<rect x="1187.4" y="1092" width="18" height="15.5" fill="#fff" stroke="#000" stroke-width="1.7"/>
<rect x="1168.7" y="1112.5" width="18" height="15.5" fill="#fff" stroke="#000" stroke-width="1.7"/>
<rect x="1180.6" y="1123.7" width="18" height="15.5" fill="#fff" stroke="#000" stroke-width="1.7"/>
<rect x="1243.7" y="1126" width="18" height="15.5" fill="#fff" stroke="#000" stroke-width="1.7"/>
<rect x="1278.8" y="1102.2" width="18" height="15.5" fill="#fff" stroke="#000" stroke-width="1.7"/>
<rect x="1306.1" y="1115.8" width="18" height="15.5" fill="#fff" stroke="#000" stroke-width="1.7"/>
<rect x="1337.5" y="1100.5" width="18" height="15.5" fill="#fff" stroke="#000" stroke-width="1.7"/>
<rect x="1361.4" y="1076.5" width="18" height="15.5" fill="#fff" stroke="#000" stroke-width="1.7"/>
<rect x="1392.1" y="1093.7" width="18" height="15.5" fill="#fff" stroke="#000" stroke-width="1.7"/>
<rect x="1416" y="1080" width="18" height="15.5" fill="#fff" stroke="#000" stroke-width="1.7"/>
<rect x="1467.1" y="1083.5" width="18" height="15.5" fill="#fff" stroke="#000" stroke-width="1.7"/>
<rect x="1521.7" y="1095.3" width="18" height="15.5" fill="#fff" stroke="#000" stroke-width="1.7"/>
<rect x="1542.1" y="1090.2" width="18" height="15.5" fill="#fff" stroke="#000" stroke-width="1.7"/>
<rect x="1560.9" y="1098.8" width="18" height="15.5" fill="#fff" stroke="#000" stroke-width="1.7"/>
<rect x="1574.5" y="1093.7" width="18" height="15.5" fill="#fff" stroke="#000" stroke-width="1.7"/>
<rect x="1589.9" y="1105.5" width="18" height="15.5" fill="#fff" stroke="#000" stroke-width="1.7"/>
<rect x="1606.9" y="1100.5" width="18" height="15.5" fill="#fff" stroke="#000" stroke-width="1.7"/>
<rect x="1196" y="1120.2" width="18" height="15.5" fill="#fff" stroke="#000" stroke-width="1.7"/>
<rect x="1206" y="1127.2" width="18" height="15.5" fill="#fff" stroke="#000" stroke-width="1.7"/>
<rect x="1231" y="1117.2" width="18" height="15.5" fill="#fff" stroke="#000" stroke-width="1.7"/>
<path d="M1113.2,756.4 L1122.7,769.9 L1103.7,769.9 Z" fill="#fff" stroke="#000" stroke-width="1.7" stroke-linejoin="miter"/>
<path d="M1119.7,799.6 L1129.2,813.1 L1110.2,813.1 Z" fill="#fff" stroke="#000" stroke-width="1.7" stroke-linejoin="miter"/>
<path d="M1122.6,850.3 L1132.1,863.8 L1113.1,863.8 Z" fill="#fff" stroke="#000" stroke-width="1.7" stroke-linejoin="miter"/>
<path d="M1126,893.2 L1135.5,906.7 L1116.5,906.7 Z" fill="#fff" stroke="#000" stroke-width="1.7" stroke-linejoin="miter"/>
<path d="M1106.3,927.7 L1115.8,941.2 L1096.8,941.2 Z" fill="#fff" stroke="#000" stroke-width="1.7" stroke-linejoin="miter"/>
<path d="M1135.8,942.4 L1145.3,955.9 L1126.3,955.9 Z" fill="#fff" stroke="#000" stroke-width="1.7" stroke-linejoin="miter"/>
<path d="M1098.6,1001.5 L1108.1,1015 L1089.1,1015 Z" fill="#fff" stroke="#000" stroke-width="1.7" stroke-linejoin="miter"/>
<path d="M1142.4,1016.8 L1151.9,1030.3 L1132.9,1030.3 Z" fill="#fff" stroke="#000" stroke-width="1.7" stroke-linejoin="miter"/>
<path d="M1147.8,1025.6 L1157.3,1039.1 L1138.3,1039.1 Z" fill="#fff" stroke="#000" stroke-width="1.7" stroke-linejoin="miter"/>
<path d="M1153.3,1039.8 L1162.8,1053.3 L1143.8,1053.3 Z" fill="#fff" stroke="#000" stroke-width="1.7" stroke-linejoin="miter"/>
<path d="M1154.4,1049.6 L1163.9,1063.1 L1144.9,1063.1 Z" fill="#fff" stroke="#000" stroke-width="1.7" stroke-linejoin="miter"/>
<path d="M1152.1,1040.1 L1161.6,1053.6 L1142.6,1053.6 Z" fill="#fff" stroke="#000" stroke-width="1.7" stroke-linejoin="miter"/>
<path d="M1176.3,1109.8 L1185.8,1123.3 L1166.8,1123.3 Z" fill="#fff" stroke="#000" stroke-width="1.7" stroke-linejoin="miter"/>
<path d="M1177.7,1108.3 L1187.2,1121.8 L1168.2,1121.8 Z" fill="#fff" stroke="#000" stroke-width="1.7" stroke-linejoin="miter"/>
<path d="M1198.1,1128.8 L1207.6,1142.3 L1188.6,1142.3 Z" fill="#fff" stroke="#000" stroke-width="1.7" stroke-linejoin="miter"/>
<path d="M1228.8,1104.9 L1238.3,1118.4 L1219.3,1118.4 Z" fill="#fff" stroke="#000" stroke-width="1.7" stroke-linejoin="miter"/>
<path d="M1288.5,1106.6 L1298,1120.1 L1279,1120.1 Z" fill="#fff" stroke="#000" stroke-width="1.7" stroke-linejoin="miter"/>
<path d="M1315.1,1091.3 L1324.6,1104.8 L1305.6,1104.8 Z" fill="#fff" stroke="#000" stroke-width="1.7" stroke-linejoin="miter"/>
<path d="M1345.8,1082.8 L1355.3,1096.3 L1336.3,1096.3 Z" fill="#fff" stroke="#000" stroke-width="1.7" stroke-linejoin="miter"/>
<path d="M1370.4,1103.2 L1379.9,1116.7 L1360.9,1116.7 Z" fill="#fff" stroke="#000" stroke-width="1.7" stroke-linejoin="miter"/>
<path d="M1425,1064 L1434.5,1077.5 L1415.5,1077.5 Z" fill="#fff" stroke="#000" stroke-width="1.7" stroke-linejoin="miter"/>
<path d="M1473.4,1043.5 L1482.9,1057 L1463.9,1057 Z" fill="#fff" stroke="#000" stroke-width="1.7" stroke-linejoin="miter"/>
<path d="M1489.8,1077.6 L1499.3,1091.1 L1480.3,1091.1 Z" fill="#fff" stroke="#000" stroke-width="1.7" stroke-linejoin="miter"/>
<path d="M1501.7,1077.6 L1511.2,1091.1 L1492.2,1091.1 Z" fill="#fff" stroke="#000" stroke-width="1.7" stroke-linejoin="miter"/>
<path d="M1520.4,1089.6 L1529.9,1103.1 L1510.9,1103.1 Z" fill="#fff" stroke="#000" stroke-width="1.7" stroke-linejoin="miter"/>
<path d="M1535.8,1098.1 L1545.3,1111.6 L1526.3,1111.6 Z" fill="#fff" stroke="#000" stroke-width="1.7" stroke-linejoin="miter"/>
<path d="M1551.1,1091.3 L1560.6,1104.8 L1541.6,1104.8 Z" fill="#fff" stroke="#000" stroke-width="1.7" stroke-linejoin="miter"/>
<path d="M1583.5,1101.5 L1593,1115 L1574,1115 Z" fill="#fff" stroke="#000" stroke-width="1.7" stroke-linejoin="miter"/>
<path d="M1568.2,1122 L1577.7,1135.5 L1558.7,1135.5 Z" fill="#fff" stroke="#000" stroke-width="1.7" stroke-linejoin="miter"/>
<path d="M1598.9,1060.6 L1608.4,1074.1 L1589.4,1074.1 Z" fill="#fff" stroke="#000" stroke-width="1.7" stroke-linejoin="miter"/>
<path d="M1130.8,874.6 L1140.3,888.1 L1121.3,888.1 Z" fill="#fff" stroke="#000" stroke-width="1.7" stroke-linejoin="miter"/>
<path d="M1169.7,1070.8 L1179.2,1057.3 L1160.2,1057.3 Z" fill="#fff" stroke="#000" stroke-width="1.7" stroke-linejoin="miter"/>
<path d="M1174.1,1098.2 L1183.6,1084.7 L1164.6,1084.7 Z" fill="#fff" stroke="#000" stroke-width="1.7" stroke-linejoin="miter"/>
<path d="M1185,1103.6 L1194.5,1090.1 L1175.5,1090.1 Z" fill="#fff" stroke="#000" stroke-width="1.7" stroke-linejoin="miter"/>
<path d="M1172.5,1099.6 L1182,1086.1 L1163,1086.1 Z" fill="#fff" stroke="#000" stroke-width="1.7" stroke-linejoin="miter"/>
<path d="M1182.8,1108.1 L1192.3,1094.6 L1173.3,1094.6 Z" fill="#fff" stroke="#000" stroke-width="1.7" stroke-linejoin="miter"/>
<path d="M1195,1113.4 L1204.5,1099.9 L1185.5,1099.9 Z" fill="#fff" stroke="#000" stroke-width="1.7" stroke-linejoin="miter"/>
<path d="M1213.5,1126.8 L1223,1113.3 L1204,1113.3 Z" fill="#fff" stroke="#000" stroke-width="1.7" stroke-linejoin="miter"/>
<path d="M1240.8,1121.7 L1250.3,1108.2 L1231.3,1108.2 Z" fill="#fff" stroke="#000" stroke-width="1.7" stroke-linejoin="miter"/>
<path d="M1262.9,1114.9 L1272.4,1101.4 L1253.4,1101.4 Z" fill="#fff" stroke="#000" stroke-width="1.7" stroke-linejoin="miter"/>
<path d="M1430,1109.8 L1439.5,1096.3 L1420.5,1096.3 Z" fill="#fff" stroke="#000" stroke-width="1.7" stroke-linejoin="miter"/>
<path d="M1442,1108.1 L1451.5,1094.6 L1432.5,1094.6 Z" fill="#fff" stroke="#000" stroke-width="1.7" stroke-linejoin="miter"/>
<path d="M1452.2,1106.4 L1461.7,1092.9 L1442.7,1092.9 Z" fill="#fff" stroke="#000" stroke-width="1.7" stroke-linejoin="miter"/>
<path d="M1462.4,1104.7 L1471.9,1091.2 L1452.9,1091.2 Z" fill="#fff" stroke="#000" stroke-width="1.7" stroke-linejoin="miter"/>
<path d="M1469.3,1108.1 L1478.8,1094.6 L1459.8,1094.6 Z" fill="#fff" stroke="#000" stroke-width="1.7" stroke-linejoin="miter"/>
<path d="M1480,1106.4 L1489.5,1092.9 L1470.5,1092.9 Z" fill="#fff" stroke="#000" stroke-width="1.7" stroke-linejoin="miter"/>
<path d="M1496.6,1114.9 L1506.1,1101.4 L1487.1,1101.4 Z" fill="#fff" stroke="#000" stroke-width="1.7" stroke-linejoin="miter"/>
<path d="M1510.2,1118.3 L1519.7,1104.8 L1500.7,1104.8 Z" fill="#fff" stroke="#000" stroke-width="1.7" stroke-linejoin="miter"/>
<path d="M1520.4,1116.6 L1529.9,1103.1 L1510.9,1103.1 Z" fill="#fff" stroke="#000" stroke-width="1.7" stroke-linejoin="miter"/>
<path d="M1205,1133.4 L1214.5,1119.9 L1195.5,1119.9 Z" fill="#fff" stroke="#000" stroke-width="1.7" stroke-linejoin="miter"/>
<path d="M1225,1138.4 L1234.5,1124.9 L1215.5,1124.9 Z" fill="#fff" stroke="#000" stroke-width="1.7" stroke-linejoin="miter"/>
<path d="M1424,1108.1 L1433,1095.1 L1415,1095.1 Z" fill="#fff" stroke="#000" stroke-width="1.5" stroke-linejoin="miter"/>
<path d="M1429,1109.6 L1438,1096.6 L1420,1096.6 Z" fill="#fff" stroke="#000" stroke-width="1.5" stroke-linejoin="miter"/>
<path d="M1434,1111.1 L1443,1098.1 L1425,1098.1 Z" fill="#fff" stroke="#000" stroke-width="1.5" stroke-linejoin="miter"/>
<path d="M1439,1108.1 L1448,1095.1 L1430,1095.1 Z" fill="#fff" stroke="#000" stroke-width="1.5" stroke-linejoin="miter"/>
<path d="M1444,1109.6 L1453,1096.6 L1435,1096.6 Z" fill="#fff" stroke="#000" stroke-width="1.5" stroke-linejoin="miter"/>
<path d="M1449,1111.1 L1458,1098.1 L1440,1098.1 Z" fill="#fff" stroke="#000" stroke-width="1.5" stroke-linejoin="miter"/>
<path d="M1454,1108.1 L1463,1095.1 L1445,1095.1 Z" fill="#fff" stroke="#000" stroke-width="1.5" stroke-linejoin="miter"/>
<path d="M1459,1109.6 L1468,1096.6 L1450,1096.6 Z" fill="#fff" stroke="#000" stroke-width="1.5" stroke-linejoin="miter"/>
<path d="M1464,1111.1 L1473,1098.1 L1455,1098.1 Z" fill="#fff" stroke="#000" stroke-width="1.5" stroke-linejoin="miter"/>
<path d="M1469,1108.1 L1478,1095.1 L1460,1095.1 Z" fill="#fff" stroke="#000" stroke-width="1.5" stroke-linejoin="miter"/>
<path d="M1474,1109.6 L1483,1096.6 L1465,1096.6 Z" fill="#fff" stroke="#000" stroke-width="1.5" stroke-linejoin="miter"/>
<path d="M1479,1111.1 L1488,1098.1 L1470,1098.1 Z" fill="#fff" stroke="#000" stroke-width="1.5" stroke-linejoin="miter"/>
<path d="M1460,1081.9 L1469,1094.9 L1451,1094.9 Z" fill="#fff" stroke="#000" stroke-width="1.5" stroke-linejoin="miter"/>
<path d="M1466,1079.9 L1475,1092.9 L1457,1092.9 Z" fill="#fff" stroke="#000" stroke-width="1.5" stroke-linejoin="miter"/>
<path d="M1472,1081.9 L1481,1094.9 L1463,1094.9 Z" fill="#fff" stroke="#000" stroke-width="1.5" stroke-linejoin="miter"/>
<path d="M1478,1079.9 L1487,1092.9 L1469,1092.9 Z" fill="#fff" stroke="#000" stroke-width="1.5" stroke-linejoin="miter"/>
<path d="M1484,1081.9 L1493,1094.9 L1475,1094.9 Z" fill="#fff" stroke="#000" stroke-width="1.5" stroke-linejoin="miter"/>
<path d="M1490,1079.9 L1499,1092.9 L1481,1092.9 Z" fill="#fff" stroke="#000" stroke-width="1.5" stroke-linejoin="miter"/>
<path d="M1485,899.9 L1493.5,887.9 L1476.5,887.9 Z" fill="#fff" stroke="#000" stroke-width="1.5" stroke-linejoin="miter"/>
<path d="M1489.1,883.8 L1497.6,895.8 L1480.6,895.8 Z" fill="#fff" stroke="#000" stroke-width="1.5" stroke-linejoin="miter"/>
<rect x="1486.2" y="886.3" width="15" height="12" fill="#fff" stroke="#000" stroke-width="1.5"/>
<path d="M1494.9,908.7 L1503.4,896.7 L1486.4,896.7 Z" fill="#fff" stroke="#000" stroke-width="1.5" stroke-linejoin="miter"/>
<path d="M1499.4,888.6 L1507.9,900.6 L1490.9,900.6 Z" fill="#fff" stroke="#000" stroke-width="1.5" stroke-linejoin="miter"/>
<rect x="1498.5" y="895.8" width="15" height="12" fill="#fff" stroke="#000" stroke-width="1.5"/>
<path d="M1508.9,913.6 L1517.4,901.6 L1500.4,901.6 Z" fill="#fff" stroke="#000" stroke-width="1.5" stroke-linejoin="miter"/>
<path d="M1511.8,895.1 L1520.3,907.1 L1503.3,907.1 Z" fill="#fff" stroke="#000" stroke-width="1.5" stroke-linejoin="miter"/>
<rect x="1507.8" y="905.2" width="15" height="12" fill="#fff" stroke="#000" stroke-width="1.5"/>
<path d="M1518.5,922.3 L1527,910.3 L1510,910.3 Z" fill="#fff" stroke="#000" stroke-width="1.5" stroke-linejoin="miter"/>
<path d="M1522.7,901.7 L1531.2,913.7 L1514.2,913.7 Z" fill="#fff" stroke="#000" stroke-width="1.5" stroke-linejoin="miter"/>
<rect x="1519.1" y="910.6" width="15" height="12" fill="#fff" stroke="#000" stroke-width="1.5"/>
<path d="M1528.4,925 L1536.9,913 L1519.9,913 Z" fill="#fff" stroke="#000" stroke-width="1.5" stroke-linejoin="miter"/>
<path d="M1534.3,911.2 L1542.8,923.2 L1525.8,923.2 Z" fill="#fff" stroke="#000" stroke-width="1.5" stroke-linejoin="miter"/>
<rect x="1529.8" y="919.4" width="15" height="12" fill="#fff" stroke="#000" stroke-width="1.5"/>
<path d="M1540.9,937.4 L1549.4,925.4 L1532.4,925.4 Z" fill="#fff" stroke="#000" stroke-width="1.5" stroke-linejoin="miter"/>
<path d="M1543.2,920.2 L1551.7,932.2 L1534.7,932.2 Z" fill="#fff" stroke="#000" stroke-width="1.5" stroke-linejoin="miter"/>
<rect x="1539.5" y="926.8" width="15" height="12" fill="#fff" stroke="#000" stroke-width="1.5"/>
<path d="M1552.3,939.5 L1560.8,927.5 L1543.8,927.5 Z" fill="#fff" stroke="#000" stroke-width="1.5" stroke-linejoin="miter"/>
<path d="M1552.9,923.7 L1561.4,935.7 L1544.4,935.7 Z" fill="#fff" stroke="#000" stroke-width="1.5" stroke-linejoin="miter"/>
<rect x="1552.4" y="930.8" width="15" height="12" fill="#fff" stroke="#000" stroke-width="1.5"/>
<path d="M1562.1,947.8 L1570.6,935.8 L1553.6,935.8 Z" fill="#fff" stroke="#000" stroke-width="1.5" stroke-linejoin="miter"/>
<path d="M1565.2,931.8 L1573.7,943.8 L1556.7,943.8 Z" fill="#fff" stroke="#000" stroke-width="1.5" stroke-linejoin="miter"/>
<rect x="1560.7" y="938.7" width="15" height="12" fill="#fff" stroke="#000" stroke-width="1.5"/>
<path d="M1572.7,958.4 L1581.2,946.4 L1564.2,946.4 Z" fill="#fff" stroke="#000" stroke-width="1.5" stroke-linejoin="miter"/>
<path d="M1576.7,942.1 L1585.2,954.1 L1568.2,954.1 Z" fill="#fff" stroke="#000" stroke-width="1.5" stroke-linejoin="miter"/>
<path d="M1284,774.4 L1293,787.4 L1275,787.4 Z" fill="#fff" stroke="#000" stroke-width="1.5" stroke-linejoin="miter"/>
<path d="M1289.2,774.9 L1298.2,787.9 L1280.2,787.9 Z" fill="#fff" stroke="#000" stroke-width="1.5" stroke-linejoin="miter"/>
<path d="M1294.4,773.6 L1303.4,786.6 L1285.4,786.6 Z" fill="#fff" stroke="#000" stroke-width="1.5" stroke-linejoin="miter"/>
<path d="M1299.6,771.6 L1308.6,784.6 L1290.6,784.6 Z" fill="#fff" stroke="#000" stroke-width="1.5" stroke-linejoin="miter"/>
<path d="M1304.8,774.4 L1313.8,787.4 L1295.8,787.4 Z" fill="#fff" stroke="#000" stroke-width="1.5" stroke-linejoin="miter"/>
<path d="M1310,774.8 L1319,787.8 L1301,787.8 Z" fill="#fff" stroke="#000" stroke-width="1.5" stroke-linejoin="miter"/>
<path d="M1315.2,774.6 L1324.2,787.6 L1306.2,787.6 Z" fill="#fff" stroke="#000" stroke-width="1.5" stroke-linejoin="miter"/>
<path d="M1320.4,773.2 L1329.4,786.2 L1311.4,786.2 Z" fill="#fff" stroke="#000" stroke-width="1.5" stroke-linejoin="miter"/>
<path d="M1325.6,773.8 L1334.6,786.8 L1316.6,786.8 Z" fill="#fff" stroke="#000" stroke-width="1.5" stroke-linejoin="miter"/>
<path d="M1330.8,771.8 L1339.8,784.8 L1321.8,784.8 Z" fill="#fff" stroke="#000" stroke-width="1.5" stroke-linejoin="miter"/>
<path d="M1336,774.3 L1345,787.3 L1327,787.3 Z" fill="#fff" stroke="#000" stroke-width="1.5" stroke-linejoin="miter"/>
<path d="M1341.2,773.2 L1350.2,786.2 L1332.2,786.2 Z" fill="#fff" stroke="#000" stroke-width="1.5" stroke-linejoin="miter"/>
<path d="M1281,804.2 L1290,791.2 L1272,791.2 Z" fill="#fff" stroke="#000" stroke-width="1.5" stroke-linejoin="miter"/>
<path d="M1286.5,803.3 L1295.5,790.3 L1277.5,790.3 Z" fill="#fff" stroke="#000" stroke-width="1.5" stroke-linejoin="miter"/>
<path d="M1292,806.5 L1301,793.5 L1283,793.5 Z" fill="#fff" stroke="#000" stroke-width="1.5" stroke-linejoin="miter"/>
<path d="M1297.5,807 L1306.5,794 L1288.5,794 Z" fill="#fff" stroke="#000" stroke-width="1.5" stroke-linejoin="miter"/>
<path d="M1303,803.4 L1312,790.4 L1294,790.4 Z" fill="#fff" stroke="#000" stroke-width="1.5" stroke-linejoin="miter"/>
<path d="M1308.5,806.3 L1317.5,793.3 L1299.5,793.3 Z" fill="#fff" stroke="#000" stroke-width="1.5" stroke-linejoin="miter"/>
<path d="M1314,804.7 L1323,791.7 L1305,791.7 Z" fill="#fff" stroke="#000" stroke-width="1.5" stroke-linejoin="miter"/>
<path d="M1319.5,803.7 L1328.5,790.7 L1310.5,790.7 Z" fill="#fff" stroke="#000" stroke-width="1.5" stroke-linejoin="miter"/>
<path d="M1325,804.2 L1334,791.2 L1316,791.2 Z" fill="#fff" stroke="#000" stroke-width="1.5" stroke-linejoin="miter"/>
<path d="M1330.5,806.1 L1339.5,793.1 L1321.5,793.1 Z" fill="#fff" stroke="#000" stroke-width="1.5" stroke-linejoin="miter"/>
<path d="M1336,806.6 L1345,793.6 L1327,793.6 Z" fill="#fff" stroke="#000" stroke-width="1.5" stroke-linejoin="miter"/>
<path d="M1341.5,803.2 L1350.5,790.2 L1332.5,790.2 Z" fill="#fff" stroke="#000" stroke-width="1.5" stroke-linejoin="miter"/>
<rect x="1251.8" y="709.8" width="16" height="13" fill="#fff" stroke="#000" stroke-width="1.7"/>
<rect x="1235" y="722.5" width="16" height="13" fill="#fff" stroke="#000" stroke-width="1.7"/>
<rect x="1264.3" y="717.9" width="16" height="13" fill="#fff" stroke="#000" stroke-width="1.7"/>
<rect x="1269.9" y="729.8" width="16" height="13" fill="#fff" stroke="#000" stroke-width="1.7"/>
<rect x="1242.4" y="739.8" width="16" height="13" fill="#fff" stroke="#000" stroke-width="1.7"/>
<rect x="1274.3" y="758.5" width="16" height="13" fill="#fff" stroke="#000" stroke-width="1.7"/>
<rect x="1292" y="781.5" width="16" height="13" fill="#fff" stroke="#000" stroke-width="1.7"/>
<rect x="1312" y="783.5" width="16" height="13" fill="#fff" stroke="#000" stroke-width="1.7"/>
<rect x="1335.5" y="782.3" width="16" height="13" fill="#fff" stroke="#000" stroke-width="1.7"/>
<rect x="1383.6" y="812.3" width="16" height="13" fill="#fff" stroke="#000" stroke-width="1.7"/>
<rect x="1408.3" y="835.5" width="16" height="13" fill="#fff" stroke="#000" stroke-width="1.7"/>
<rect x="1428.1" y="856.9" width="16" height="13" fill="#fff" stroke="#000" stroke-width="1.7"/>
<rect x="1453.1" y="866.4" width="16" height="13" fill="#fff" stroke="#000" stroke-width="1.7"/>
<rect x="1472" y="881.9" width="16" height="13" fill="#fff" stroke="#000" stroke-width="1.7"/>
<rect x="1588.1" y="954.1" width="16" height="13" fill="#fff" stroke="#000" stroke-width="1.7"/>
<rect x="1608" y="967" width="16" height="13" fill="#fff" stroke="#000" stroke-width="1.7"/>
<path d="M1257.5,666.6 L1267,680.1 L1248,680.1 Z" fill="#fff" stroke="#000" stroke-width="1.7" stroke-linejoin="miter"/>
<path d="M1262.9,690.4 L1272.4,703.9 L1253.4,703.9 Z" fill="#fff" stroke="#000" stroke-width="1.7" stroke-linejoin="miter"/>
<path d="M1279.1,751.6 L1288.6,765.1 L1269.6,765.1 Z" fill="#fff" stroke="#000" stroke-width="1.7" stroke-linejoin="miter"/>
<path d="M1268,731.6 L1277.5,745.1 L1258.5,745.1 Z" fill="#fff" stroke="#000" stroke-width="1.7" stroke-linejoin="miter"/>
<path d="M1250.4,781.6 L1259.9,795.1 L1240.9,795.1 Z" fill="#fff" stroke="#000" stroke-width="1.7" stroke-linejoin="miter"/>
<path d="M1242.7,849 L1252.2,862.5 L1233.2,862.5 Z" fill="#fff" stroke="#000" stroke-width="1.7" stroke-linejoin="miter"/>
<path d="M1290,773.6 L1299.5,787.1 L1280.5,787.1 Z" fill="#fff" stroke="#000" stroke-width="1.7" stroke-linejoin="miter"/>
<path d="M1305,771.6 L1314.5,785.1 L1295.5,785.1 Z" fill="#fff" stroke="#000" stroke-width="1.7" stroke-linejoin="miter"/>
<path d="M1325.4,773.5 L1334.9,787 L1315.9,787 Z" fill="#fff" stroke="#000" stroke-width="1.7" stroke-linejoin="miter"/>
<path d="M1365.4,792.9 L1374.9,806.4 L1355.9,806.4 Z" fill="#fff" stroke="#000" stroke-width="1.7" stroke-linejoin="miter"/>
<path d="M1407.7,828.4 L1417.2,841.9 L1398.2,841.9 Z" fill="#fff" stroke="#000" stroke-width="1.7" stroke-linejoin="miter"/>
<path d="M1431,844.7 L1440.5,858.2 L1421.5,858.2 Z" fill="#fff" stroke="#000" stroke-width="1.7" stroke-linejoin="miter"/>
<path d="M1447.3,851.6 L1456.8,865.1 L1437.8,865.1 Z" fill="#fff" stroke="#000" stroke-width="1.7" stroke-linejoin="miter"/>
<path d="M1484.3,886 L1493.8,899.5 L1474.8,899.5 Z" fill="#fff" stroke="#000" stroke-width="1.7" stroke-linejoin="miter"/>
<path d="M1586.7,938.5 L1596.2,952 L1577.2,952 Z" fill="#fff" stroke="#000" stroke-width="1.7" stroke-linejoin="miter"/>
<path d="M1607.3,968.6 L1616.8,982.1 L1597.8,982.1 Z" fill="#fff" stroke="#000" stroke-width="1.7" stroke-linejoin="miter"/>
<path d="M1252.3,779.7 L1261.8,766.2 L1242.8,766.2 Z" fill="#fff" stroke="#000" stroke-width="1.7" stroke-linejoin="miter"/>
<path d="M1270,793.4 L1279.5,779.9 L1260.5,779.9 Z" fill="#fff" stroke="#000" stroke-width="1.7" stroke-linejoin="miter"/>
<path d="M1285,802.4 L1294.5,788.9 L1275.5,788.9 Z" fill="#fff" stroke="#000" stroke-width="1.7" stroke-linejoin="miter"/>
<path d="M1300,805.4 L1309.5,791.9 L1290.5,791.9 Z" fill="#fff" stroke="#000" stroke-width="1.7" stroke-linejoin="miter"/>
<path d="M1315,805.4 L1324.5,791.9 L1305.5,791.9 Z" fill="#fff" stroke="#000" stroke-width="1.7" stroke-linejoin="miter"/>
<path d="M1330,807.4 L1339.5,793.9 L1320.5,793.9 Z" fill="#fff" stroke="#000" stroke-width="1.7" stroke-linejoin="miter"/>
<path d="M1350,814.4 L1359.5,800.9 L1340.5,800.9 Z" fill="#fff" stroke="#000" stroke-width="1.7" stroke-linejoin="miter"/>
<path d="M1380,823.4 L1389.5,809.9 L1370.5,809.9 Z" fill="#fff" stroke="#000" stroke-width="1.7" stroke-linejoin="miter"/>
<path d="M1093.6,1037.2 C1094.1,1031.4 1095.2,1017.2 1096.4,1002.2 C1097.6,987.2 1099.5,963.9 1100.8,947.5 C1102.1,931.1 1103,918.4 1104,903.8 C1105,889.2 1105.9,879 1107,860 C1108.1,841 1109.3,811.7 1110.5,790 C1111.7,768.3 1112.9,746.5 1114,730 C1115.1,713.5 1116.4,697.2 1116.9,690.7" fill="none" stroke="#000" stroke-width="3" stroke-linejoin="round"/>
<path d="M1116.9,690.7 C1117.6,698.9 1119.5,721.8 1121,740 C1122.5,758.2 1124.6,780 1126,800 C1127.4,820 1128.1,842.7 1129.2,860 C1130.3,877.3 1131,888.5 1132.5,903.8 C1134,919.1 1135.8,933.7 1138,951.9 C1140.2,970.1 1142.5,997.5 1145.6,1013.2 C1148.7,1028.9 1152.2,1035.1 1156.6,1046 C1161,1056.9 1166.8,1069 1171.9,1078.8 C1177,1088.6 1182.1,1097.8 1187.2,1105.1 C1192.3,1112.4 1196.7,1118.4 1202.5,1122.6 C1208.3,1126.8 1215.3,1128.8 1222.2,1130.2 C1229.1,1131.7 1234.5,1132.6 1244.1,1131.3 C1253.7,1130 1270.9,1124.6 1280,1122.6 C1289.1,1120.6 1287,1122.3 1298.7,1119.1 C1310.4,1115.8 1330,1107.5 1349.9,1103.1 C1369.8,1098.7 1398.2,1094.8 1418.1,1092.9 C1438,1091.1 1449.4,1090.3 1469.3,1092 C1489.2,1093.7 1511.6,1099 1537.5,1103.1 C1563.4,1107.2 1610,1114.4 1624.5,1116.7" fill="none" stroke="#000" stroke-width="3" stroke-linejoin="round"/>
<line x1="1176.3" y1="1089.8" x2="1206.9" y2="1139.9" stroke="#000" stroke-width="1.6"/>
<path d="M1241.8,857 C1242.3,850.8 1243.6,836.2 1245,820 C1246.4,803.8 1248.7,777.5 1250,760 C1251.3,742.5 1251.9,728.3 1253,715 C1254.1,701.7 1256.2,686.1 1256.8,680.3" fill="none" stroke="#000" stroke-width="3" stroke-linejoin="round"/>
<path d="M1256.8,680.3 C1257.7,685.2 1260.1,699.2 1262,710 C1263.9,720.8 1265.5,732 1268,745 C1270.5,758 1273.3,780.7 1276.7,788.2 C1280.1,795.7 1283,789.5 1288.5,790 C1294,790.5 1302.1,790.6 1310,791 C1317.9,791.4 1328.5,790.6 1336,792.5 C1343.5,794.4 1348.5,799.2 1354.8,802.5 C1361,805.8 1366,807.4 1373.5,812.5 C1381,817.6 1383.8,822 1400,833.3 C1416.2,844.6 1447.3,864.9 1470.6,880.2 C1493.9,895.5 1516.9,910 1540,925 C1563.1,940 1597.5,962.6 1609,970.1" fill="none" stroke="#000" stroke-width="3" stroke-linejoin="round"/>
<line x1="1256.8" y1="680.3" x2="1282" y2="760" stroke="#000" stroke-width="2.4"/>
<rect x="1264.3" y="961.5" width="180.2" height="108.8" fill="#fff" stroke="#000" stroke-width="1.4"/>
<rect x="1275.5" y="972.7" width="20.2" height="15.1" fill="#fff" stroke="#000" stroke-width="1.7"/>
<path d="M1285.5,1005 L1298.7,1022.5 L1272.3,1022.5 Z" fill="#fff" stroke="#000" stroke-width="1.7" stroke-linejoin="miter"/>
<path d="M1285.5,1059.4 L1298.3,1044.2 L1272.7,1044.2 Z" fill="#fff" stroke="#000" stroke-width="1.7" stroke-linejoin="miter"/>
<text x="1304.5" y="986.6" font-family="'Liberation Serif', 'Times New Roman', serif" font-size="30.5" font-weight="bold">I</text>
<line x1="1329.5" y1="965.1" x2="1329.5" y2="992.6" stroke="#000" stroke-width="2.2"/>
<line x1="1336.5" y1="965.1" x2="1336.5" y2="992.6" stroke="#000" stroke-width="2.2"/>
<text x="1359.5" y="986.6" font-family="'Liberation Serif', 'Times New Roman', serif" font-size="30" textLength="46" lengthAdjust="spacingAndGlyphs">100</text>
<text x="1304.5" y="1022.5" font-family="'Liberation Serif', 'Times New Roman', serif" font-size="30.5" font-weight="bold">I</text>
<line x1="1329.5" y1="1001" x2="1329.5" y2="1028.5" stroke="#000" stroke-width="2.2"/>
<line x1="1336.5" y1="1001" x2="1336.5" y2="1028.5" stroke="#000" stroke-width="2.2"/>
<text x="1359.5" y="1022.5" font-family="'Liberation Serif', 'Times New Roman', serif" font-size="30" textLength="46" lengthAdjust="spacingAndGlyphs">111</text>
<text x="1304.5" y="1057.7" font-family="'Liberation Serif', 'Times New Roman', serif" font-size="30.5" font-weight="bold">I</text>
<line x1="1329.5" y1="1036.2" x2="1329.5" y2="1063.7" stroke="#000" stroke-width="2.2"/>
<line x1="1336.5" y1="1036.2" x2="1336.5" y2="1063.7" stroke="#000" stroke-width="2.2"/>
<text x="1359.5" y="1057.7" font-family="'Liberation Serif', 'Times New Roman', serif" font-size="30" textLength="46" lengthAdjust="spacingAndGlyphs">110</text>
</svg>
</body></html>
